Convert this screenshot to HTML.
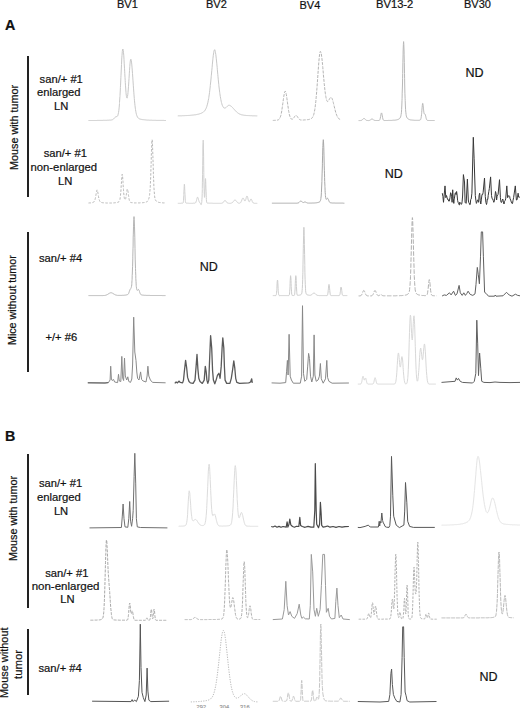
<!DOCTYPE html>
<html><head><meta charset="utf-8"><style>
html,body{margin:0;padding:0;background:#fff;}
body{width:520px;height:708px;position:relative;overflow:hidden;font-family:"Liberation Sans",sans-serif;color:#111;-webkit-text-stroke-width:0.2px;}
.t{position:absolute;white-space:nowrap;line-height:1;}
.rot{position:absolute;transform-origin:0 0;transform:rotate(-90deg);white-space:nowrap;line-height:1;}
.vl{position:absolute;left:26.95px;width:1.8px;background:#222;}
svg{position:absolute;left:0;top:0;}
</style></head><body>
<svg width="520" height="708" viewBox="0 0 520 708" fill="none" stroke-linejoin="round">
<path d="M88.5 120.5 89.0 120.5 89.5 120.5 90.0 120.5 90.5 120.5 91.0 120.5 91.5 120.5 92.0 120.5 92.5 120.5 93.0 120.5 93.5 120.5 94.0 120.5 94.5 120.5 95.0 120.5 95.5 120.5 96.0 120.5 96.5 120.5 97.0 120.4 97.5 120.4 98.0 120.4 98.5 120.4 99.0 120.4 99.5 120.4 100.0 120.4 100.5 120.4 101.0 120.4 101.5 120.4 102.0 120.4 102.5 120.4 103.0 120.4 103.5 120.3 104.0 120.3 104.5 120.3 105.0 120.3 105.5 120.3 106.0 120.3 106.5 120.3 107.0 120.2 107.5 120.2 108.0 120.2 108.5 120.2 109.0 120.2 109.5 120.1 110.0 120.1 110.5 120.1 111.0 120.0 111.3 120.0 111.5 119.9 111.7 119.9 112.0 119.8 112.0 119.8 112.4 119.7 112.5 119.7 112.8 119.5 113.0 119.4 113.2 119.3 113.5 119.0 113.5 119.0 113.9 118.6 114.0 118.5 114.3 118.2 114.5 117.9 114.7 117.7 115.0 117.4 115.0 117.3 115.4 117.0 115.5 117.0 115.8 116.8 116.0 116.7 116.2 116.7 116.5 116.6 116.5 116.6 116.9 116.5 117.0 116.5 117.1 116.5 117.3 116.3 117.5 116.1 117.6 115.9 117.7 115.8 118.0 114.9 118.0 114.8 118.4 113.1 118.5 112.7 118.5 112.6 118.8 110.7 119.0 109.0 119.2 107.2 119.5 103.6 119.5 103.3 119.5 102.6 119.9 96.8 120.0 96.4 120.0 95.6 120.3 90.0 120.4 87.5 120.5 85.9 120.9 77.4 121.0 75.2 121.4 67.0 121.5 64.5 121.8 57.9 122.0 55.5 122.3 51.4 122.5 50.0 122.8 49.0 123.0 49.3 123.3 50.7 123.5 52.8 123.8 55.8 124.0 59.5 124.2 63.2 124.5 68.2 124.7 71.8 124.8 73.7 125.0 77.3 125.2 80.4 125.3 82.6 125.5 85.8 125.7 88.0 125.8 90.0 126.0 92.4 126.1 93.8 126.3 95.3 126.5 96.7 126.6 97.2 126.8 97.9 127.0 98.1 127.1 98.1 127.3 97.6 127.5 96.7 127.5 96.4 127.8 94.5 128.0 92.6 128.0 92.3 128.3 89.0 128.5 86.3 128.8 81.8 129.0 78.6 129.3 73.8 129.5 70.7 129.8 66.4 130.0 63.9 130.3 61.1 130.5 59.9 130.8 59.2 131.0 59.5 131.3 60.8 131.5 62.1 131.8 64.9 132.0 67.1 132.3 70.9 132.5 73.6 132.8 77.9 133.0 80.8 133.3 85.2 133.5 88.1 133.8 92.2 134.0 94.9 134.3 98.5 134.5 100.8 134.8 103.8 135.0 105.7 135.3 108.1 135.5 109.5 135.8 111.4 136.0 112.5 136.3 113.8 136.5 114.6 136.8 115.5 137.0 116.1 137.5 117.1 138.0 117.8 138.5 118.3 139.0 118.6 139.5 118.9 140.0 119.1 140.5 119.2 141.0 119.3 141.5 119.4 142.0 119.5 142.5 119.6 143.0 119.7 143.5 119.7 144.0 119.8 144.5 119.8 145.0 119.9 145.5 119.9 146.0 120.0 146.5 120.0 147.0 120.0 147.5 120.1 148.0 120.1 148.5 120.1 149.0 120.2 149.5 120.2 150.0 120.2 150.5 120.2 151.0 120.2 151.5 120.2 152.0 120.3 152.5 120.3 153.0 120.3 153.5 120.3 154.0 120.3 154.5 120.3 155.0 120.3 155.5 120.3 156.0 120.4 156.5 120.4 157.0 120.4 157.5 120.4 158.0 120.4 158.5 120.4 159.0 120.4 159.5 120.4 160.0 120.4 160.5 120.4 161.0 120.4 161.5 120.4 162.0 120.4 162.5 120.4 163.0 120.4 163.5 120.4 164.0 120.5 164.5 120.5 165.0 120.5 165.5 120.5 166.0 120.5" stroke="#c8c8c8"/>
<path d="M177.8 115.9 178.3 115.8 178.8 115.8 179.3 115.8 179.8 115.8 180.3 115.8 180.8 115.8 181.3 115.8 181.8 115.8 182.3 115.7 182.8 115.7 183.3 115.7 183.8 115.7 184.3 115.7 184.8 115.6 185.3 115.6 185.8 115.6 186.3 115.6 186.8 115.5 187.3 115.5 187.8 115.5 188.3 115.5 188.8 115.4 189.3 115.4 189.8 115.4 190.3 115.3 190.8 115.3 191.3 115.2 191.8 115.2 192.3 115.1 192.8 115.1 193.3 115.0 193.8 115.0 194.3 114.9 194.8 114.8 195.3 114.8 195.8 114.7 196.3 114.6 196.8 114.5 197.3 114.4 197.8 114.3 198.3 114.2 198.8 114.1 199.3 113.9 199.8 113.8 200.3 113.6 200.8 113.4 201.3 113.2 201.8 113.0 202.3 112.7 202.8 112.4 203.3 112.1 203.8 111.6 204.3 111.2 204.4 111.0 204.8 110.6 205.2 109.9 205.3 109.8 205.8 108.9 206.1 108.3 206.3 107.8 206.8 106.5 206.9 106.0 207.3 104.8 207.8 102.8 208.3 100.3 208.7 98.4 208.8 97.5 209.3 94.1 209.5 92.6 209.8 90.2 210.3 85.8 210.3 85.3 210.8 81.0 211.2 76.8 211.3 75.8 211.8 70.3 212.1 67.6 212.3 64.9 212.8 59.8 212.9 58.8 213.3 55.3 213.8 52.2 213.8 51.9 214.3 50.0 214.6 49.7 214.8 49.8 215.3 51.4 215.4 52.2 215.8 54.5 216.3 58.8 216.8 63.8 217.2 67.5 217.3 69.2 217.8 74.6 218.0 76.7 218.3 79.8 218.8 84.7 218.8 85.2 219.3 89.1 219.7 92.3 219.8 93.1 219.9 93.8 220.3 96.5 220.6 98.0 220.7 98.8 220.8 99.4 221.3 101.8 221.4 102.2 221.5 102.6 221.8 103.7 222.2 105.1 222.3 105.3 222.8 106.4 223.1 106.9 223.3 107.2 223.8 107.8 223.9 107.8 223.9 107.9 224.3 108.0 224.7 108.1 224.8 108.1 225.3 107.9 225.5 107.8 225.8 107.7 226.3 107.3 226.8 106.8 227.1 106.5 227.3 106.3 227.8 105.9 227.9 105.8 228.3 105.5 228.7 105.3 228.8 105.3 229.3 105.3 229.5 105.3 229.8 105.4 230.3 105.7 230.8 106.0 231.1 106.2 231.3 106.4 231.8 106.8 231.9 106.9 232.3 107.3 232.7 107.7 232.8 107.8 233.3 108.4 233.5 108.6 233.8 109.0 234.3 109.5 234.8 110.1 235.1 110.4 235.3 110.6 235.8 111.2 235.9 111.3 236.3 111.6 236.7 112.0 236.8 112.1 237.3 112.5 237.5 112.7 237.8 112.9 238.3 113.3 238.8 113.6 239.1 113.8 239.3 113.9 239.8 114.1 240.3 114.3 240.8 114.5 241.3 114.7 241.8 114.8 242.3 114.9 242.8 115.0 243.3 115.1 243.8 115.2 244.3 115.3 244.8 115.3 245.3 115.4 245.8 115.4 246.3 115.5 246.8 115.5 247.3 115.5 247.8 115.6 248.3 115.6 248.8 115.6 249.3 115.6 249.8 115.7 250.3 115.7 250.8 115.7 251.3 115.7 251.8 115.7 252.3 115.8 252.8 115.8 253.3 115.8 253.8 115.8 254.3 115.8 254.8 115.8 255.3 115.8 255.8 115.9 256.3 115.9 256.8 115.9 257.3 115.9" stroke="#c8c8c8"/>
<path d="M272.8 120.4 273.3 120.4 273.8 120.4 274.3 120.4 274.8 120.3 275.3 120.3 275.8 120.3 276.3 120.3 276.8 120.2 277.3 120.1 277.8 120.0 278.3 119.8 278.8 119.5 278.9 119.4 279.3 119.0 279.4 118.8 279.8 118.2 280.0 117.8 280.3 117.1 280.6 116.2 280.8 115.5 281.2 113.9 281.3 113.3 281.8 110.8 281.8 110.5 282.3 107.2 282.3 107.1 282.8 103.6 282.9 102.8 283.3 99.8 283.5 98.5 283.8 96.3 284.1 94.8 284.3 93.4 284.6 92.1 284.8 91.7 285.2 91.2 285.3 91.2 285.8 92.1 285.8 92.2 286.3 94.5 286.4 94.7 286.8 97.6 286.9 98.5 287.3 101.3 287.5 102.8 287.8 105.0 288.1 107.0 288.3 108.6 288.6 110.8 288.8 111.6 289.2 113.8 289.3 114.2 289.8 116.1 290.3 117.5 290.4 117.7 290.6 118.1 290.8 118.4 290.9 118.6 291.1 118.7 291.3 119.0 291.5 119.1 291.5 119.1 291.8 119.2 291.9 119.3 292.1 119.3 292.3 119.2 292.4 119.2 292.8 119.0 292.9 118.9 293.3 118.5 293.8 117.9 293.8 117.8 294.2 117.2 294.3 117.1 294.6 116.5 294.8 116.3 295.1 115.9 295.3 115.7 295.6 115.5 295.8 115.4 296.0 115.4 296.3 115.5 296.4 115.5 296.8 115.9 296.9 116.0 297.3 116.5 297.4 116.6 297.8 117.3 298.2 118.0 298.3 118.1 298.7 118.6 298.8 118.7 299.1 119.1 299.3 119.3 299.6 119.5 299.8 119.6 300.1 119.7 300.3 119.8 300.5 119.9 300.8 120.0 300.9 120.0 301.3 120.0 301.4 120.0 301.8 120.0 302.3 120.0 302.8 120.0 303.3 120.0 303.8 120.0 304.3 119.9 304.8 119.9 305.3 119.9 305.8 119.8 306.3 119.8 306.8 119.7 307.3 119.7 307.8 119.6 308.3 119.6 308.8 119.5 309.3 119.4 309.8 119.2 310.3 119.1 310.8 118.9 311.3 118.6 311.8 118.2 312.0 118.0 312.3 117.7 312.7 117.1 312.8 116.9 313.3 115.8 313.4 115.6 313.8 114.3 314.1 113.1 314.3 112.2 314.8 109.5 315.3 105.9 315.5 104.2 315.8 101.5 316.2 97.3 316.3 96.2 316.8 90.0 316.9 88.7 317.3 83.3 317.6 79.0 317.8 76.1 318.3 69.0 318.8 62.4 319.0 60.1 319.3 56.9 319.7 53.7 319.8 53.1 320.3 51.5 320.4 51.4 320.8 51.9 321.1 53.0 321.3 54.0 321.8 57.5 321.9 58.4 322.3 62.1 322.5 64.2 322.7 66.1 322.8 67.5 323.2 72.0 323.3 73.1 323.4 74.9 323.8 78.8 323.9 79.9 324.2 83.4 324.3 84.2 324.6 87.2 324.8 89.1 325.0 90.8 325.3 93.2 325.8 96.4 325.8 96.5 326.0 97.6 326.3 99.0 326.6 99.9 326.7 100.3 326.8 100.6 327.3 101.4 327.3 101.4 327.4 101.4 327.8 101.5 328.1 101.3 328.3 101.0 328.8 100.3 328.9 100.1 329.3 99.3 329.6 98.7 329.8 98.4 330.3 97.7 330.4 97.6 330.8 97.4 331.2 97.4 331.3 97.5 331.8 98.1 332.0 98.4 332.3 99.2 332.8 100.5 332.8 100.7 333.3 102.5 333.5 103.4 333.8 104.6 334.3 106.7 334.8 108.8 335.1 109.9 335.3 110.8 335.8 112.6 335.9 112.7 336.3 114.1 336.6 115.0 336.8 115.5 337.3 116.6 337.4 116.8 337.8 117.4 338.2 118.0 338.3 118.1 338.8 118.7 338.9 118.8 339.3 119.0 339.7 119.3 339.8 119.3 340.3 119.5 340.5 119.6 340.8 119.7" stroke="#b4b4b4" stroke-dasharray="3 1.2"/>
<path d="M358.6 120.6 359.1 120.6 359.6 120.6 360.1 120.6 360.4 120.6 360.6 120.5 360.7 120.5 361.0 120.5 361.1 120.5 361.3 120.4 361.6 120.3 361.9 120.1 362.1 120.0 362.2 119.9 362.5 119.6 362.6 119.5 362.8 119.3 363.1 119.0 363.4 118.7 363.6 118.6 363.7 118.6 364.0 118.5 364.1 118.5 364.3 118.6 364.6 118.7 364.9 119.0 365.1 119.2 365.2 119.3 365.5 119.6 365.6 119.7 365.8 119.9 366.1 120.1 366.4 120.3 366.6 120.4 366.7 120.4 367.0 120.5 367.1 120.5 367.3 120.5 367.6 120.5 368.1 120.6 368.4 120.6 368.6 120.5 368.7 120.5 369.0 120.5 369.1 120.5 369.3 120.4 369.6 120.4 369.9 120.2 370.1 120.1 370.2 120.1 370.5 119.9 370.6 119.8 370.8 119.6 371.1 119.4 371.4 119.2 371.6 119.1 371.7 119.0 372.0 119.0 372.1 119.0 372.3 119.0 372.6 119.2 372.9 119.4 373.1 119.5 373.2 119.6 373.5 119.8 373.6 119.9 373.8 120.1 374.1 120.2 374.4 120.3 374.6 120.4 374.7 120.4 375.0 120.5 375.1 120.5 375.3 120.5 375.6 120.5 376.1 120.5 376.6 120.5 377.1 120.5 377.6 120.5 378.1 120.5 378.6 120.5 379.1 120.5 379.3 120.4 379.5 120.2 379.6 120.1 379.7 119.9 379.9 119.5 380.1 118.9 380.3 118.1 380.5 117.0 380.6 116.5 380.7 115.9 380.9 114.8 381.1 113.8 381.3 113.1 381.5 112.9 381.6 113.0 381.7 113.1 381.9 113.8 382.1 114.8 382.3 115.9 382.5 117.0 382.6 117.6 382.7 118.0 382.9 118.9 383.1 119.5 383.3 119.9 383.5 120.2 383.6 120.3 383.7 120.3 383.9 120.4 384.1 120.5 384.6 120.5 385.1 120.5 385.6 120.5 386.1 120.5 386.6 120.5 387.1 120.5 387.6 120.5 388.1 120.5 388.6 120.4 389.1 120.4 389.6 120.4 390.1 120.4 390.6 120.4 391.1 120.4 391.6 120.4 392.1 120.3 392.6 120.3 393.1 120.3 393.6 120.2 394.1 120.2 394.6 120.2 395.1 120.1 395.6 120.1 396.1 120.0 396.6 119.9 397.1 119.8 397.6 119.6 398.1 119.5 398.6 119.2 399.1 118.9 399.6 118.5 400.1 117.9 400.6 116.9 400.9 115.8 401.1 114.8 401.1 114.6 401.4 112.8 401.6 110.0 401.6 109.7 401.8 106.0 402.0 100.5 402.1 98.3 402.2 93.2 402.5 84.0 402.6 78.3 402.7 73.5 402.9 62.3 403.1 54.1 403.1 52.0 403.4 44.4 403.6 41.6 403.8 44.4 404.1 52.0 404.1 54.1 404.3 62.3 404.5 73.5 404.6 78.3 404.7 84.0 404.9 93.2 405.1 98.3 405.2 100.5 405.4 106.0 405.6 109.7 405.6 110.0 405.9 112.8 406.1 114.6 406.1 114.8 406.3 115.8 406.6 116.9 407.1 117.9 407.6 118.5 408.1 118.9 408.6 119.2 409.1 119.5 409.6 119.6 410.1 119.8 410.6 119.9 411.1 120.0 411.6 120.0 412.1 120.1 412.6 120.1 413.1 120.2 413.6 120.2 414.1 120.2 414.6 120.3 415.1 120.3 415.6 120.3 416.1 120.3 416.6 120.3 417.1 120.3 417.6 120.3 418.1 120.3 418.6 120.3 419.1 120.2 419.6 120.2 420.1 120.0 420.3 119.9 420.5 119.6 420.6 119.5 420.7 119.3 420.9 118.7 421.1 117.8 421.3 116.5 421.5 114.7 421.6 113.7 421.7 112.6 421.9 110.2 422.1 107.7 422.3 105.5 422.5 103.9 422.6 103.5 422.7 103.3 422.8 103.4 422.9 103.8 423.0 104.4 423.1 105.2 423.2 106.1 423.3 107.1 423.4 108.2 423.5 109.2 423.6 110.2 423.7 111.1 423.8 111.9 423.9 112.5 424.0 113.0 424.1 113.4 424.2 113.7 424.3 113.8 424.4 113.9 424.5 113.9 424.6 113.9 424.7 113.9 424.8 113.9 424.9 113.9 425.0 114.0 425.1 114.1 425.2 114.4 425.4 115.0 425.6 115.8 425.8 116.7 426.0 117.6 426.1 118.0 426.2 118.4 426.4 119.1 426.6 119.6 426.8 119.9 427.0 120.1 427.1 120.2 427.2 120.3 427.4 120.3 427.6 120.4 428.1 120.4 428.6 120.5 429.1 120.5 429.6 120.5 430.1 120.5 430.6 120.5 431.1 120.5 431.6 120.5 432.1 120.5 432.6 120.5 433.1 120.5 433.6 120.5 434.1 120.5 434.6 120.5" stroke="#b8b8b8"/>
<path d="M88.5 203.0 89.0 203.0 89.5 202.9 90.0 202.9 90.5 202.9 91.0 202.8 91.5 202.8 92.0 202.7 92.5 202.6 93.0 202.4 93.5 202.2 93.8 202.0 94.0 201.8 94.1 201.7 94.4 201.2 94.5 201.0 94.7 200.6 95.0 199.7 95.3 198.5 95.5 197.5 95.6 197.0 95.9 195.3 96.0 194.7 96.2 193.4 96.5 191.7 96.8 190.4 97.0 190.0 97.1 189.9 97.4 190.4 97.5 190.7 97.7 191.7 98.0 193.4 98.3 195.3 98.5 196.5 98.6 197.0 98.9 198.5 99.0 198.9 99.2 199.7 99.5 200.5 99.8 201.2 100.0 201.5 100.1 201.7 100.4 202.0 100.5 202.0 100.7 202.2 101.0 202.3 101.5 202.5 102.0 202.6 102.5 202.7 103.0 202.8 103.5 202.8 104.0 202.9 104.5 202.9 105.0 202.9 105.5 202.9 106.0 202.9 106.5 203.0 107.0 203.0 107.5 203.0 108.0 203.0 108.5 203.0 109.0 203.0 109.5 203.0 110.0 203.0 110.5 203.0 111.0 203.0 111.5 203.0 112.0 202.9 112.5 202.9 113.0 202.9 113.5 202.9 114.0 202.9 114.5 202.8 115.0 202.8 115.5 202.7 116.0 202.7 116.5 202.6 117.0 202.5 117.5 202.4 118.0 202.2 118.5 202.0 119.0 201.6 119.2 201.3 119.5 200.9 119.5 200.8 119.7 200.2 120.0 199.2 120.0 199.0 120.2 197.8 120.5 195.7 120.5 195.3 120.7 193.1 121.0 189.8 121.0 189.0 121.2 185.9 121.5 181.9 121.5 181.1 121.7 178.1 122.0 175.3 122.0 175.0 122.2 174.3 122.5 175.3 122.5 175.7 122.7 178.0 123.0 181.7 123.0 182.5 123.2 185.8 123.5 189.5 123.5 190.2 123.7 192.8 124.0 195.4 124.0 195.8 124.2 197.3 124.4 198.4 124.5 198.6 124.5 198.8 124.7 199.3 124.7 199.4 124.9 199.7 125.0 199.7 125.0 199.7 125.2 199.7 125.2 199.7 125.4 199.3 125.5 199.1 125.7 198.6 125.9 197.4 126.0 196.9 126.2 195.9 126.4 194.2 126.5 193.4 126.7 192.3 126.9 190.6 127.0 190.1 127.2 189.4 127.4 189.0 127.5 189.1 127.7 189.5 127.9 190.8 128.0 191.5 128.2 192.6 128.4 194.6 128.5 195.4 128.7 196.5 128.9 198.1 129.0 198.7 129.2 199.5 129.4 200.5 129.5 200.8 129.7 201.2 129.9 201.7 130.0 201.8 130.2 202.0 130.4 202.2 130.5 202.3 131.0 202.5 131.5 202.6 132.0 202.7 132.5 202.7 133.0 202.8 133.5 202.8 134.0 202.8 134.5 202.9 135.0 202.9 135.5 202.9 136.0 202.9 136.5 202.9 137.0 202.9 137.5 202.9 138.0 202.9 138.5 202.9 139.0 202.9 139.5 202.9 140.0 202.8 140.5 202.8 141.0 202.8 141.5 202.8 142.0 202.8 142.5 202.7 143.0 202.7 143.5 202.6 144.0 202.6 144.5 202.5 145.0 202.4 145.5 202.3 146.0 202.1 146.4 202.0 146.5 202.0 146.7 201.9 146.9 201.7 147.0 201.7 147.2 201.6 147.4 201.3 147.5 201.2 147.7 201.0 147.9 200.7 148.0 200.5 148.2 200.2 148.4 199.7 148.5 199.5 148.7 199.1 148.9 198.3 148.9 198.1 149.0 197.9 149.2 197.3 149.2 197.0 149.4 196.0 149.5 195.5 149.5 195.3 149.7 194.2 149.7 193.4 149.9 191.6 150.0 190.3 150.2 188.1 150.3 186.1 150.4 183.3 150.5 181.0 150.5 180.4 150.7 177.2 150.8 173.3 150.9 169.8 151.0 166.6 151.1 165.0 151.2 161.6 151.3 156.2 151.4 153.3 151.5 150.2 151.6 148.0 151.7 145.9 151.8 141.9 151.9 141.0 152.0 140.0 152.1 139.7 152.2 139.8 152.4 142.0 152.4 142.7 152.5 144.8 152.6 148.1 152.9 156.4 153.0 160.2 153.2 165.3 153.4 173.8 153.5 176.4 153.7 181.1 153.9 187.0 154.0 188.2 154.2 191.5 154.5 194.7 154.5 195.1 154.7 196.9 155.0 198.4 155.0 198.4 155.2 199.4 155.5 200.0 156.0 200.8 156.5 201.3 157.0 201.7 157.5 201.9 158.0 202.1 158.5 202.3 159.0 202.4 159.5 202.5 160.0 202.6 160.5 202.6 161.0 202.7 161.5 202.8 162.0 202.8 162.5 202.8 163.0 202.9 163.5 202.9 164.0 202.9 164.5 202.9 165.0 203.0 165.5 203.0" stroke="#b8b8b8" stroke-dasharray="2.5 1.5"/>
<path d="M177.8 203.3 178.3 203.3 178.8 203.3 179.3 203.3 179.8 203.3 180.3 203.3 180.8 203.3 181.3 203.2 181.8 203.2 182.3 203.2 182.8 203.1 183.1 202.8 183.2 202.6 183.3 202.2 183.3 202.1 183.4 201.5 183.5 200.5 183.6 199.0 183.7 197.0 183.8 195.4 183.8 194.5 183.9 191.8 184.1 189.0 184.2 186.5 184.3 184.8 184.3 184.7 184.4 184.2 184.5 184.8 184.6 186.5 184.7 189.0 184.8 190.5 184.8 191.8 185.0 194.5 185.1 197.0 185.2 199.0 185.3 200.5 185.4 201.5 185.5 202.2 185.6 202.6 185.8 202.8 185.8 202.9 186.3 203.1 186.8 203.2 187.3 203.2 187.8 203.2 188.3 203.2 188.8 203.3 189.3 203.3 189.8 203.3 190.3 203.3 190.8 203.3 191.3 203.3 191.8 203.3 192.3 203.3 192.8 203.3 193.3 203.2 193.8 203.2 194.3 203.2 194.8 203.2 194.9 203.2 195.1 203.1 195.3 203.0 195.3 203.0 195.6 202.7 195.8 202.4 196.0 201.9 196.2 201.3 196.3 201.1 196.5 200.5 196.7 199.6 196.8 199.2 196.9 198.7 197.2 197.9 197.3 197.5 197.4 197.4 197.6 197.2 197.8 197.3 197.8 197.4 198.1 197.9 198.3 198.6 198.3 198.7 198.5 199.5 198.7 200.4 198.8 200.6 198.9 201.1 199.2 201.7 199.3 202.0 199.4 202.2 199.6 202.5 199.7 202.6 199.8 202.7 199.8 202.7 199.8 202.7 199.9 202.8 200.1 202.9 200.2 203.1 200.3 203.2 200.3 203.2 200.4 203.5 200.6 203.7 200.7 204.0 200.8 204.3 200.8 204.3 200.9 204.5 201.1 204.6 201.2 204.6 201.3 204.4 201.3 204.4 201.4 204.0 201.6 203.3 201.7 202.5 201.8 201.5 201.8 201.3 201.9 199.5 202.1 197.1 202.2 193.5 202.3 189.7 202.3 188.6 202.4 182.2 202.6 174.3 202.7 165.4 202.8 158.0 202.8 156.2 202.9 148.1 203.1 142.3 203.2 140.2 203.3 141.6 203.3 142.3 203.4 148.1 203.6 156.2 203.7 165.3 203.8 172.5 203.8 174.2 203.9 182.0 204.1 188.3 204.2 191.2 204.2 192.9 204.3 194.5 204.3 195.3 204.3 195.8 204.4 196.5 204.4 197.2 204.5 197.4 204.6 197.3 204.6 197.2 204.7 196.1 204.7 195.9 204.8 194.4 204.8 193.8 204.9 190.9 205.1 187.6 205.2 184.2 205.3 181.2 205.3 180.7 205.4 179.3 205.5 178.6 205.6 179.4 205.7 181.5 205.8 183.5 205.8 184.7 205.9 188.2 206.1 191.8 206.2 195.1 206.3 197.7 206.3 197.9 206.4 199.6 206.5 201.0 206.6 201.9 206.7 202.4 206.8 202.6 206.8 202.7 207.3 203.0 207.8 203.1 208.3 203.1 208.8 203.2 209.3 203.2 209.8 203.2 210.3 203.2 210.8 203.2 211.3 203.2 211.8 203.2 212.3 203.2 212.8 203.3 213.3 203.3 213.8 203.3 214.3 203.3 214.8 203.3 215.3 203.3 215.8 203.3 216.3 203.3 216.8 203.3 217.3 203.3 217.8 203.3 218.3 203.3 218.8 203.3 219.3 203.3 219.8 203.3 220.3 203.3 220.8 203.3 221.3 203.3 221.4 203.3 221.7 203.2 221.8 203.2 222.0 203.2 222.3 203.1 222.6 202.9 222.8 202.8 222.9 202.7 223.2 202.4 223.3 202.3 223.5 202.0 223.8 201.6 224.1 201.2 224.3 200.9 224.4 200.8 224.7 200.6 224.8 200.5 225.0 200.5 225.3 200.6 225.6 200.8 225.8 201.1 225.9 201.2 226.2 201.6 226.3 201.7 226.5 202.0 226.8 202.4 227.1 202.7 227.3 202.8 227.4 202.9 227.7 203.1 227.8 203.1 228.0 203.2 228.3 203.2 228.6 203.3 228.8 203.3 229.3 203.3 229.8 203.3 230.3 203.3 230.5 203.3 230.8 203.2 230.9 203.2 231.2 203.1 231.3 203.1 231.6 203.0 231.8 203.0 232.0 202.8 232.3 202.6 232.4 202.6 232.8 202.2 232.8 202.2 233.1 201.8 233.3 201.6 233.5 201.3 233.8 200.9 233.9 200.8 234.2 200.4 234.3 200.3 234.6 200.1 234.8 200.0 235.0 200.0 235.3 200.1 235.4 200.1 235.8 200.4 235.8 200.4 236.1 200.8 236.3 201.0 236.5 201.3 236.8 201.7 236.9 201.8 237.2 202.2 237.3 202.3 237.6 202.6 237.8 202.7 238.0 202.8 238.3 203.0 238.4 203.0 238.8 203.1 238.8 203.2 239.1 203.2 239.3 203.2 239.4 203.2 239.5 203.2 239.7 203.2 239.8 203.1 240.0 203.1 240.3 202.9 240.6 202.6 240.8 202.3 240.9 202.2 241.2 201.6 241.3 201.4 241.5 200.9 241.8 200.1 242.1 199.3 242.3 198.8 242.4 198.6 242.7 198.2 242.8 198.1 243.0 198.0 243.3 198.2 243.6 198.6 243.8 199.0 243.9 199.2 244.0 199.5 244.2 199.9 244.2 200.1 244.3 200.2 244.5 200.6 244.8 200.9 244.8 200.9 245.0 201.0 245.1 201.0 245.2 200.8 245.3 200.7 245.4 200.6 245.5 200.3 245.7 199.8 245.8 199.6 245.8 199.4 246.0 198.7 246.2 197.7 246.3 197.5 246.5 196.8 246.6 196.5 246.8 196.2 246.8 196.1 247.0 196.0 247.2 196.2 247.3 196.3 247.5 196.9 247.8 197.8 247.8 198.0 248.0 198.8 248.2 199.9 248.3 200.1 248.5 200.7 248.8 201.4 248.8 201.5 249.0 201.7 249.2 201.8 249.3 201.8 249.5 201.6 249.8 201.2 249.8 201.1 250.0 200.6 250.2 200.0 250.3 199.9 250.5 199.5 250.8 199.1 250.8 199.1 251.0 199.0 251.2 199.1 251.3 199.2 251.5 199.5 251.8 200.1 251.8 200.2 252.0 200.7 252.2 201.3 252.3 201.5 252.5 201.9 252.8 202.4 252.8 202.4 253.0 202.7 253.2 203.0 253.3 203.0 253.5 203.1 253.8 203.2 253.8 203.2 254.0 203.3 254.3 203.3 254.8 203.3 255.3 203.3 255.8 203.3 256.3 203.3 256.8 203.3 257.3 203.3" stroke="#d0d0d0"/>
<path d="M271.9 203.2 272.4 203.2 272.9 203.2 273.4 203.2 273.9 203.2 274.4 203.2 274.9 203.2 275.4 203.2 275.9 203.2 276.4 203.2 276.9 203.2 277.4 203.2 277.9 203.2 278.4 203.2 278.9 203.2 279.4 203.2 279.9 203.2 280.4 203.2 280.9 203.2 281.4 203.2 281.9 203.2 282.4 203.2 282.9 203.2 283.4 203.2 283.9 203.2 284.4 203.2 284.9 203.2 285.4 203.2 285.9 203.2 286.4 203.2 286.9 203.2 287.4 203.2 287.9 203.2 288.4 203.2 288.9 203.2 289.4 203.2 289.9 203.2 290.4 203.2 290.9 203.2 291.4 203.2 291.9 203.2 292.4 203.2 292.9 203.2 293.4 203.2 293.9 203.2 294.4 203.2 294.9 203.2 295.4 203.2 295.9 203.2 296.4 203.2 296.9 203.2 297.2 203.1 297.4 203.1 297.5 203.1 297.8 203.1 297.9 203.1 298.1 203.0 298.4 202.9 298.7 202.7 298.9 202.6 299.0 202.5 299.3 202.2 299.4 202.1 299.6 201.9 299.9 201.5 300.2 201.3 300.4 201.1 300.5 201.1 300.8 201.0 300.9 201.0 301.1 201.1 301.4 201.2 301.7 201.5 301.9 201.7 302.0 201.8 302.3 202.1 302.4 202.2 302.6 202.3 302.9 202.4 303.2 202.5 303.4 202.5 303.5 202.5 303.8 202.4 303.9 202.3 304.1 202.2 304.4 202.1 304.7 202.0 304.9 202.0 305.0 202.0 305.3 202.0 305.4 202.1 305.6 202.1 305.9 202.3 306.2 202.4 306.4 202.6 306.5 202.6 306.8 202.8 306.9 202.8 307.1 202.9 307.4 203.0 307.7 203.0 307.9 203.1 308.0 203.1 308.3 203.1 308.4 203.1 308.6 203.1 308.9 203.1 309.4 203.1 309.9 203.1 310.4 203.1 310.9 203.1 311.4 203.1 311.9 203.0 312.4 203.0 312.9 203.0 313.4 203.0 313.9 203.0 314.4 203.0 314.9 202.9 315.4 202.9 315.9 202.8 316.4 202.8 316.9 202.7 317.4 202.6 317.9 202.5 318.4 202.4 318.9 202.2 319.4 202.0 319.9 201.6 320.4 200.7 320.4 200.6 320.7 199.7 320.9 198.4 320.9 198.2 321.2 196.0 321.4 192.7 321.6 188.0 321.9 181.7 321.9 180.9 322.1 173.9 322.4 165.1 322.4 163.2 322.6 155.9 322.8 147.7 322.9 145.5 323.1 141.9 323.3 139.7 323.4 140.1 323.5 141.9 323.8 147.7 323.9 151.9 324.0 155.9 324.2 165.1 324.4 170.7 324.5 173.9 324.6 177.7 324.7 181.6 324.9 185.1 324.9 186.4 325.0 187.8 325.1 190.7 325.2 192.5 325.4 194.6 325.4 195.2 325.4 195.6 325.6 197.1 325.7 197.6 325.9 198.5 325.9 198.7 325.9 198.7 326.1 199.1 326.1 199.2 326.4 199.3 326.4 199.2 326.6 199.1 326.9 198.8 326.9 198.7 327.1 198.5 327.4 198.3 327.4 198.3 327.6 198.3 327.9 198.5 327.9 198.6 328.1 198.9 328.4 199.5 328.4 199.6 328.6 200.2 328.9 200.8 328.9 200.9 329.1 201.4 329.4 201.8 329.4 201.9 329.6 202.2 329.9 202.4 329.9 202.5 330.1 202.6 330.4 202.7 330.4 202.7 330.6 202.8 330.9 202.8 331.4 202.9 331.9 202.9 332.4 203.0 332.9 203.0 333.4 203.0 333.9 203.0 334.4 203.0 334.9 203.1 335.4 203.1 335.9 203.1 336.4 203.1 336.9 203.1 337.4 203.1 337.9 203.1 338.4 203.1 338.9 203.1 339.4 203.1 339.9 203.1 340.4 203.1 340.9 203.1 341.4 203.1 341.9 203.1 342.4 203.1 342.9 203.1 343.4 203.2 343.9 203.2 344.4 203.2" stroke="#a8a8a8"/>
<path d="M442.3 193.2 442.9 196.4 443.5 202.3 445.0 185.9 445.8 197.7 446.5 195.5 447.1 197.7 447.6 199.5 448.2 199.4 448.7 201.1 449.3 201.1 450.0 197.5 450.6 192.7 451.1 193.7 451.6 196.7 452.1 202.3 452.7 189.8 453.2 198.3 453.8 203.4 454.2 199.0 454.6 197.0 455.1 193.5 455.5 192.7 456.1 194.6 456.6 191.5 457.1 195.0 457.6 200.4 458.1 202.3 458.5 203.3 458.9 204.5 459.4 204.9 459.8 202.1 460.3 203.5 461.0 204.4 461.7 204.0 462.1 201.8 462.6 196.0 463.4 174.6 464.5 182.0 465.1 202.3 465.6 203.0 466.2 203.4 467.4 179.1 468.3 200.0 468.8 202.7 469.2 203.0 469.7 204.6 470.2 204.5 470.7 199.6 471.2 199.0 471.9 193.2 473.3 137.3 474.1 158.2 475.3 195.5 475.9 200.7 476.4 203.4 476.9 202.2 477.4 200.0 478.0 200.2 478.6 202.3 479.1 195.4 479.7 193.2 480.2 200.4 480.8 204.0 481.4 199.1 482.0 194.4 482.6 194.6 483.1 192.7 484.5 178.0 485.3 196.6 485.9 202.4 486.5 204.5 486.9 202.8 487.3 199.0 487.8 199.4 488.2 195.5 488.8 191.6 489.3 188.7 490.6 176.9 491.5 195.5 492.1 198.7 492.7 198.9 493.2 200.3 493.8 202.3 494.4 200.9 494.9 197.0 495.5 191.5 496.1 193.7 496.6 200.0 497.1 196.3 497.6 194.9 498.1 194.4 499.5 179.7 500.4 197.7 501.0 202.3 501.7 202.3 502.2 200.3 502.8 199.0 503.4 202.1 504.0 204.0 504.6 201.3 505.1 200.6 505.7 198.9 506.8 185.9 507.6 197.7 508.3 196.0 509.0 195.5 509.6 196.3 510.1 198.9 510.7 200.0 511.3 202.1 511.9 203.4 512.5 203.5 513.0 200.5 513.6 197.7 515.3 185.9 516.4 200.0 517.0 199.9 517.5 197.2 518.1 193.2 518.7 197.2 519.4 197.1 520.0 197.7" stroke="#383838"/>
<path d="M88.5 295.6 89.0 295.6 89.5 295.6 90.0 295.6 90.5 295.6 91.0 295.6 91.5 295.6 92.0 295.6 92.5 295.6 93.0 295.6 93.5 295.6 94.0 295.6 94.5 295.6 95.0 295.6 95.5 295.6 96.0 295.6 96.5 295.6 97.0 295.6 97.5 295.6 98.0 295.6 98.5 295.6 99.0 295.6 99.5 295.6 100.0 295.6 100.5 295.6 101.0 295.6 101.5 295.6 102.0 295.6 102.5 295.6 103.0 295.5 103.5 295.5 104.0 295.5 104.1 295.5 104.5 295.5 104.8 295.4 105.0 295.4 105.4 295.3 105.5 295.3 106.0 295.2 106.5 295.0 106.6 294.9 107.0 294.8 107.2 294.6 107.5 294.5 107.9 294.2 108.0 294.2 108.5 293.8 109.0 293.5 109.1 293.4 109.5 293.2 109.8 293.0 110.0 292.9 110.4 292.8 110.5 292.8 111.0 292.7 111.5 292.8 111.6 292.8 112.0 292.9 112.2 293.0 112.5 293.2 112.9 293.4 113.0 293.5 113.5 293.8 114.0 294.1 114.1 294.2 114.5 294.4 114.8 294.6 115.0 294.7 115.4 294.9 115.5 294.9 116.0 295.1 116.5 295.2 116.6 295.2 117.0 295.3 117.2 295.3 117.5 295.4 117.9 295.4 118.0 295.4 118.5 295.4 119.0 295.4 119.5 295.4 120.0 295.4 120.5 295.4 121.0 295.4 121.5 295.4 122.0 295.3 122.5 295.3 123.0 295.3 123.5 295.3 124.0 295.2 124.5 295.2 125.0 295.1 125.5 295.1 126.0 295.0 126.5 294.9 127.0 294.8 127.3 294.7 127.5 294.6 127.5 294.6 127.8 294.5 128.0 294.3 128.1 294.2 128.3 293.9 128.5 293.6 128.6 293.5 128.8 293.0 129.0 292.4 129.1 292.3 129.3 291.5 129.5 290.9 129.6 290.8 129.8 290.0 130.0 289.6 130.1 289.4 130.3 289.0 130.5 288.8 130.6 288.7 130.8 288.5 131.0 288.2 131.1 288.1 131.2 287.6 131.3 287.4 131.5 286.4 131.6 286.0 131.8 284.2 131.8 283.6 132.0 280.6 132.1 279.7 132.2 275.3 132.3 274.0 132.5 268.0 132.6 266.3 132.8 258.9 132.8 256.9 133.0 248.3 133.1 246.1 133.2 237.1 133.3 234.9 133.5 226.8 133.8 219.4 134.0 216.6 134.2 219.4 134.5 226.9 134.8 237.2 135.0 248.4 135.2 259.1 135.5 268.4 135.6 271.6 135.8 275.8 135.8 278.3 136.0 281.4 136.1 283.1 136.2 285.3 136.3 286.5 136.5 287.9 136.6 288.6 136.8 289.4 136.8 289.8 137.0 290.1 137.1 290.3 137.3 290.4 137.5 290.3 137.6 290.2 137.8 290.0 138.0 289.8 138.1 289.7 138.3 289.5 138.5 289.5 138.6 289.6 138.8 289.9 139.0 290.2 139.1 290.4 139.3 291.1 139.5 291.5 139.6 291.8 139.8 292.6 140.0 293.0 140.1 293.2 140.3 293.8 140.5 294.0 140.6 294.2 140.8 294.5 141.0 294.6 141.1 294.7 141.3 294.8 141.5 294.9 141.6 294.9 142.0 295.0 142.5 295.1 143.0 295.1 143.5 295.2 144.0 295.2 144.5 295.3 145.0 295.3 145.5 295.3 146.0 295.3 146.5 295.4 147.0 295.4 147.5 295.4 148.0 295.4 148.5 295.4 149.0 295.4 149.5 295.4 150.0 295.5 150.5 295.5 151.0 295.5 151.5 295.5 152.0 295.5 152.5 295.5 153.0 295.5 153.5 295.5 154.0 295.5 154.5 295.5 155.0 295.5 155.5 295.5 156.0 295.5 156.5 295.5 157.0 295.5 157.5 295.5 158.0 295.5 158.5 295.5 159.0 295.5 159.5 295.5 160.0 295.5 160.5 295.5 161.0 295.5 161.5 295.5 162.0 295.6 162.5 295.6 163.0 295.6 163.5 295.6 164.0 295.6 164.5 295.6 165.0 295.6 165.5 295.6" stroke="#b4b4b4"/>
<path d="M272.8 295.6 273.3 295.6 273.8 295.6 274.3 295.6 274.8 295.6 275.3 295.6 275.8 295.5 276.0 295.4 276.1 295.2 276.2 294.9 276.3 294.7 276.4 294.3 276.5 293.5 276.6 292.2 276.8 290.5 276.8 289.7 276.9 288.5 277.0 286.1 277.1 283.8 277.2 281.8 277.3 281.2 277.4 280.5 277.5 280.0 277.6 280.5 277.8 281.8 277.8 282.6 277.9 283.8 278.0 286.1 278.1 288.4 278.2 290.5 278.3 291.3 278.4 292.2 278.5 293.5 278.6 294.3 278.8 294.9 278.8 295.1 278.9 295.2 279.0 295.4 279.3 295.6 279.8 295.6 280.3 295.6 280.8 295.6 281.3 295.6 281.8 295.6 282.3 295.6 282.8 295.6 283.3 295.6 283.8 295.6 284.3 295.6 284.8 295.6 285.3 295.6 285.8 295.6 286.3 295.6 286.8 295.6 287.3 295.6 287.8 295.6 288.3 295.6 288.8 295.5 289.1 295.3 289.2 295.1 289.3 294.9 289.4 294.7 289.5 294.0 289.6 292.9 289.7 291.3 289.8 290.0 289.9 289.1 290.0 286.5 290.1 283.5 290.2 280.6 290.3 279.0 290.4 278.0 290.5 276.3 290.6 275.7 290.7 276.3 290.8 277.2 290.9 278.0 291.0 280.6 291.1 283.5 291.2 286.5 291.3 288.1 291.4 289.1 291.5 291.2 291.6 292.9 291.7 294.0 291.8 294.4 291.9 294.7 292.0 295.1 292.1 295.3 292.3 295.5 292.8 295.5 293.3 295.5 293.8 295.5 294.3 295.3 294.4 295.0 294.6 294.6 294.7 293.9 294.8 292.8 294.9 291.2 295.1 289.1 295.2 286.4 295.3 283.5 295.4 280.6 295.6 278.0 295.7 276.3 295.8 275.7 295.9 276.3 296.1 278.0 296.2 280.5 296.3 283.5 296.4 286.4 296.6 289.0 296.7 291.2 296.8 292.7 296.9 293.8 297.1 294.5 297.2 294.9 297.3 295.2 297.8 295.3 298.3 295.3 298.8 295.3 299.3 295.2 299.8 295.1 300.3 294.9 300.8 294.7 301.3 294.3 301.8 293.2 302.0 292.2 302.1 290.7 302.3 288.7 302.3 288.3 302.5 284.7 302.7 279.5 302.8 274.8 302.9 272.7 303.0 264.2 303.2 254.5 303.3 248.8 303.4 244.6 303.6 235.8 303.7 229.6 303.8 228.1 303.9 227.3 304.1 229.6 304.2 235.8 304.3 238.1 304.4 244.6 304.6 254.5 304.8 264.2 304.8 265.5 304.9 272.7 305.1 279.5 305.3 284.7 305.5 288.3 305.6 290.7 305.8 292.1 305.8 292.2 306.0 293.2 306.3 294.0 306.8 294.6 307.3 294.8 307.8 295.0 308.3 295.1 308.8 295.2 309.3 295.3 309.5 295.3 309.8 295.3 309.9 295.3 310.2 295.3 310.3 295.3 310.6 295.2 310.8 295.2 311.0 295.1 311.3 294.9 311.4 294.9 311.8 294.6 311.8 294.6 312.1 294.3 312.3 294.1 312.5 294.0 312.8 293.7 312.9 293.6 313.2 293.3 313.3 293.2 313.6 293.1 313.8 293.0 314.0 293.0 314.3 293.1 314.4 293.1 314.8 293.3 314.8 293.3 315.1 293.6 315.3 293.8 315.5 294.0 315.8 294.3 315.9 294.4 316.2 294.7 316.3 294.8 316.6 295.0 316.8 295.1 317.0 295.2 317.3 295.3 317.4 295.3 317.8 295.4 317.8 295.5 318.1 295.5 318.3 295.5 318.5 295.5 318.8 295.5 319.3 295.6 319.8 295.6 320.3 295.6 320.8 295.6 321.3 295.6 321.8 295.6 322.3 295.6 322.8 295.6 323.3 295.6 323.8 295.6 324.3 295.6 324.8 295.6 325.3 295.6 325.8 295.6 326.3 295.6 326.8 295.6 327.2 295.5 327.3 295.4 327.4 295.3 327.5 295.1 327.6 294.7 327.8 294.1 327.9 293.2 328.1 292.0 328.2 290.5 328.3 289.9 328.4 288.8 328.6 287.1 328.7 285.7 328.8 285.0 328.9 284.7 329.0 284.4 329.1 284.7 329.3 285.7 329.4 287.1 329.6 288.8 329.8 290.5 329.8 291.0 329.9 292.0 330.1 293.2 330.2 294.1 330.3 294.5 330.4 294.7 330.5 295.1 330.6 295.3 330.8 295.5 331.3 295.6 331.8 295.6 332.3 295.6 332.8 295.6 333.3 295.6 333.8 295.6 334.3 295.6 334.8 295.6 335.3 295.6 335.8 295.6 336.3 295.6 336.8 295.6 337.3 295.6 337.8 295.6 338.3 295.6 338.8 295.6 339.3 295.5 339.4 295.4 339.6 295.2 339.8 294.9 339.8 294.8 339.9 294.4 340.1 293.7 340.2 292.8 340.3 292.1 340.4 291.7 340.5 290.4 340.6 289.1 340.8 288.0 340.9 287.3 341.1 287.0 341.2 287.3 341.3 287.5 341.4 288.0 341.6 289.1 341.7 290.4 341.8 291.2 341.9 291.7 342.0 292.8 342.1 293.7 342.3 294.4 342.4 294.9 342.6 295.2 342.8 295.4 342.8 295.4 342.9 295.5 343.3 295.6 343.8 295.6 344.3 295.6 344.8 295.6 345.3 295.6 345.8 295.6 346.3 295.6 346.8 295.6 347.3 295.6" stroke="#cccccc"/>
<path d="M358.6 295.9 359.1 295.9 359.6 295.9 360.1 295.8 360.2 295.8 360.5 295.8 360.6 295.7 360.8 295.6 361.1 295.5 361.4 295.2 361.6 294.9 361.7 294.7 362.0 294.1 362.1 293.9 362.3 293.4 362.6 292.6 362.9 291.8 363.1 291.3 363.2 291.1 363.5 290.7 363.6 290.6 363.8 290.5 364.1 290.7 364.4 291.1 364.6 291.6 364.7 291.8 365.0 292.6 365.1 292.9 365.3 293.4 365.6 294.1 365.9 294.7 366.1 295.0 366.2 295.2 366.5 295.5 366.6 295.5 366.8 295.6 367.1 295.8 367.4 295.8 367.6 295.8 368.1 295.9 368.6 295.9 369.1 295.9 369.6 295.9 370.1 295.9 370.6 295.9 371.1 295.8 371.4 295.8 371.6 295.8 371.7 295.8 372.0 295.6 372.1 295.6 372.3 295.4 372.6 295.1 372.9 294.7 373.1 294.3 373.2 294.1 373.5 293.4 373.6 293.2 373.8 292.6 374.1 291.8 374.4 291.1 374.6 290.8 374.7 290.7 375.0 290.5 375.1 290.5 375.3 290.7 375.6 291.1 375.9 291.8 376.1 292.3 376.2 292.6 376.5 293.4 376.6 293.7 376.8 294.1 377.1 294.7 377.4 295.1 377.6 295.3 377.7 295.4 377.8 295.5 378.0 295.6 378.1 295.6 378.1 295.6 378.3 295.7 378.6 295.7 378.6 295.7 378.8 295.6 379.1 295.6 379.1 295.5 379.3 295.4 379.6 295.2 379.6 295.2 379.8 295.0 380.1 294.8 380.1 294.8 380.3 294.7 380.6 294.5 380.6 294.5 380.8 294.5 381.1 294.5 381.1 294.6 381.3 294.7 381.6 294.8 381.6 294.9 381.8 295.0 382.1 295.2 382.1 295.3 382.3 295.4 382.6 295.6 382.6 295.6 382.8 295.7 383.1 295.7 383.1 295.8 383.3 295.8 383.6 295.8 383.6 295.8 383.8 295.8 384.1 295.8 384.6 295.8 385.1 295.8 385.6 295.8 386.1 295.8 386.6 295.8 387.1 295.8 387.6 295.8 388.1 295.8 388.6 295.8 389.1 295.8 389.6 295.8 390.1 295.8 390.6 295.8 391.1 295.8 391.6 295.8 392.1 295.8 392.6 295.8 393.1 295.8 393.6 295.8 394.1 295.8 394.6 295.8 395.1 295.8 395.6 295.8 396.1 295.8 396.6 295.7 397.1 295.7 397.6 295.7 398.1 295.7 398.6 295.7 399.1 295.7 399.6 295.7 400.1 295.6 400.6 295.6 401.1 295.6 401.6 295.6 402.1 295.5 402.6 295.5 403.1 295.5 403.6 295.4 404.1 295.3 404.6 295.3 405.1 295.2 405.6 295.1 406.1 294.9 406.6 294.8 407.1 294.6 407.6 294.3 408.1 293.9 408.6 293.3 409.1 292.2 409.4 291.0 409.6 289.6 409.6 289.2 409.9 286.5 410.1 284.1 410.2 282.4 410.5 276.7 410.6 273.5 410.8 269.1 411.0 259.8 411.1 256.9 411.3 249.0 411.6 237.8 411.6 236.8 411.9 227.6 412.1 220.8 412.1 220.3 412.4 217.6 412.6 219.0 412.7 220.3 412.9 227.6 413.1 233.0 413.2 237.8 413.5 249.0 413.6 253.0 413.8 259.8 414.1 269.1 414.1 270.7 414.3 276.7 414.6 282.4 414.9 286.5 415.1 288.8 415.1 289.2 415.4 291.0 415.6 291.8 415.7 292.1 416.1 293.1 416.6 293.8 417.1 294.2 417.6 294.5 418.1 294.7 418.6 294.9 419.1 295.0 419.6 295.1 420.1 295.2 420.6 295.3 421.1 295.4 421.6 295.4 422.1 295.5 422.6 295.5 423.1 295.5 423.6 295.5 424.1 295.6 424.6 295.6 425.1 295.6 425.6 295.6 426.1 295.5 426.6 295.3 426.8 295.1 427.1 294.8 427.1 294.7 427.3 294.2 427.5 293.3 427.6 292.8 427.7 292.1 427.9 290.4 428.1 289.1 428.2 288.3 428.4 286.0 428.6 283.9 428.6 283.6 428.9 281.5 429.1 280.1 429.1 280.0 429.3 279.6 429.5 280.1 429.6 280.5 429.8 281.6 430.0 283.6 430.1 284.9 430.2 286.0 430.4 288.4 430.6 290.0 430.6 290.4 430.9 292.1 431.1 293.4 431.3 294.3 431.6 294.9 431.6 295.0 431.8 295.2 432.0 295.4 432.1 295.5 432.6 295.6 433.1 295.7 433.6 295.7 434.1 295.7 434.6 295.8 435.1 295.8 435.6 295.8 436.1 295.8 436.6 295.8" stroke="#b0b0b0" stroke-dasharray="4.5 1.5"/>
<path d="M442.1 296.0 444.2 294.9 446.4 295.4 448.0 294.0 449.5 292.8 451.1 294.9 453.6 291.2 455.4 295.4 457.0 293.9 458.2 289.0 459.1 285.4 460.3 292.8 462.2 295.4 463.8 292.8 465.4 295.4 466.8 293.5 468.1 291.2 470.2 294.4 472.8 295.4 475.0 293.9 476.0 284.3 477.3 267.4 478.3 274.8 479.4 283.8 480.5 256.8 481.3 231.9 482.6 231.9 483.4 256.8 484.6 292.3 486.2 293.5 488.5 296.2 494.6 296.2 495.2 295.0 496.0 296.2 503.0 295.8 506.5 292.3 509.2 295.0 512.0 296.2 515.4 294.2 517.7 295.4 520.0 295.8" stroke="#606060"/>
<path d="M87.8 382.8 105.0 383.0 108.4 382.6 110.1 380.0 110.7 366.2 111.4 379.0 112.2 380.5 113.6 379.5 114.6 382.0 117.6 382.6 118.5 374.3 119.3 381.0 120.8 381.5 121.8 356.4 122.7 378.0 123.6 380.5 124.5 358.0 125.3 376.0 126.7 380.0 127.8 376.8 128.8 381.5 130.5 382.4 131.8 379.0 132.6 365.0 133.7 317.2 134.8 352.0 136.0 360.5 136.8 372.0 137.6 378.4 139.0 380.0 140.6 371.9 141.6 379.5 143.0 380.9 146.0 382.0 147.1 376.0 147.9 366.2 148.8 376.0 150.4 380.0 152.5 382.4 165.6 382.8" stroke="#8a8a8a"/>
<path d="M174.8 383.4 176.1 382.0 177.5 382.9 178.9 381.1 180.3 382.4 182.6 382.9 183.5 380.1 184.4 371.0 185.6 360.4 186.7 368.2 187.6 377.4 189.0 381.5 190.4 382.9 193.1 383.4 195.0 380.1 196.1 366.4 197.0 354.4 197.9 369.1 198.8 378.3 200.0 381.5 202.3 383.4 204.2 380.1 205.3 366.4 206.2 371.9 206.9 380.1 207.8 383.4 208.8 380.1 209.7 357.2 210.6 335.6 211.7 348.0 212.6 371.0 213.4 380.1 214.8 383.8 216.1 380.1 217.5 375.1 218.9 373.3 220.1 378.3 221.2 366.4 222.1 348.0 222.8 337.9 223.8 348.0 224.4 366.4 225.1 380.1 226.7 383.4 229.9 383.4 231.3 378.3 232.7 369.1 233.8 360.8 234.8 368.2 235.7 378.3 236.8 382.4 239.6 383.4 248.8 382.9 250.6 382.0 251.7 378.8 252.3 382.9" stroke="#5a5a5a" stroke-width="1.3"/>
<path d="M271.6 382.9 280.0 383.2 285.7 382.6 286.6 371.2 287.4 360.4 288.1 375.0 289.1 334.3 290.2 376.2 291.4 380.0 293.3 383.2 300.3 383.2 301.6 376.2 302.5 305.7 303.5 373.7 304.8 381.3 306.7 379.4 307.7 366.1 308.6 353.4 309.5 358.5 310.5 376.2 311.8 382.0 313.3 376.2 314.1 334.9 314.9 375.0 316.2 381.3 318.1 380.0 319.4 376.2 320.4 363.5 321.3 378.8 323.2 383.2 325.5 378.8 326.8 360.4 327.6 377.5 328.9 381.3 332.1 383.2 348.9 383.0" stroke="#888888"/>
<path d="M357.8 384.1 358.3 384.1 358.8 384.1 359.3 384.1 359.8 384.1 360.3 384.1 360.6 384.0 360.8 383.9 361.0 383.8 361.2 383.5 361.3 383.3 361.4 383.1 361.6 382.4 361.8 381.6 362.0 380.5 362.2 379.4 362.3 378.8 362.4 378.2 362.6 377.2 362.8 376.6 363.0 376.3 363.1 376.3 363.2 376.5 363.3 376.7 363.4 377.1 363.5 377.5 363.6 377.9 363.7 378.3 363.8 378.8 363.9 379.2 364.0 379.5 364.1 379.8 364.2 380.0 364.3 380.1 364.4 380.1 364.5 380.0 364.6 379.8 364.7 379.6 364.8 379.4 364.9 379.1 365.0 378.8 365.1 378.5 365.2 378.3 365.3 378.1 365.4 378.0 365.5 378.0 365.7 378.2 365.8 378.5 365.9 378.8 366.1 379.5 366.3 380.4 366.5 381.3 366.7 382.1 366.8 382.5 366.9 382.8 367.1 383.3 367.3 383.6 367.5 383.8 367.7 384.0 367.8 384.0 367.9 384.0 368.3 384.1 368.8 384.1 369.3 384.1 369.8 384.1 370.3 384.1 370.8 384.1 371.3 384.1 371.8 384.1 372.3 384.1 372.7 384.0 372.8 384.0 372.9 384.0 373.1 383.8 373.3 383.6 373.5 383.2 373.7 382.7 373.8 382.4 373.9 382.0 374.1 381.2 374.3 380.2 374.5 379.3 374.7 378.5 374.8 378.1 374.9 377.9 375.1 377.7 375.3 377.9 375.5 378.5 375.7 379.3 375.8 379.7 375.9 380.2 376.1 381.2 376.3 382.0 376.5 382.7 376.7 383.2 376.8 383.4 376.9 383.6 377.1 383.8 377.3 384.0 377.5 384.0 377.8 384.1 378.3 384.1 378.8 384.1 379.3 384.1 379.8 384.1 380.3 384.1 380.8 384.1 381.3 384.1 381.8 384.1 382.3 384.1 382.8 384.1 383.3 384.1 383.8 384.1 384.3 384.1 384.8 384.1 385.3 384.1 385.8 384.1 386.3 384.1 386.8 384.1 387.3 384.1 387.8 384.1 388.3 384.1 388.8 384.1 389.3 384.1 389.8 384.1 390.3 384.1 390.8 384.1 391.3 384.1 391.8 384.1 392.3 384.1 392.8 384.1 393.3 384.1 393.8 384.1 394.3 384.0 394.8 383.9 394.9 383.8 395.2 383.4 395.3 383.3 395.5 382.7 395.8 381.7 395.8 381.6 396.1 379.9 396.3 378.3 396.4 377.4 396.7 374.1 396.8 372.4 397.0 370.0 397.2 365.4 397.3 364.5 397.5 360.8 397.8 357.1 397.8 356.8 398.1 354.1 398.3 353.2 398.4 353.0 398.6 353.2 398.7 353.7 398.8 354.4 398.8 354.7 399.0 356.0 399.1 357.6 399.3 359.2 399.3 359.6 399.4 361.0 399.6 362.5 399.7 364.1 399.8 365.0 399.8 365.3 400.0 366.3 400.1 366.9 400.3 367.1 400.3 367.1 400.4 366.9 400.6 366.3 400.7 365.5 400.8 364.8 400.9 364.4 401.0 363.1 401.1 361.7 401.3 360.4 401.3 360.2 401.4 359.1 401.6 358.0 401.7 357.2 401.8 356.8 401.9 356.7 402.0 356.6 402.3 357.6 402.3 357.6 402.6 360.0 402.8 362.7 402.9 363.5 403.1 367.6 403.3 369.7 403.4 371.6 403.7 375.2 403.8 376.1 404.0 378.2 404.3 380.4 404.6 381.9 404.8 382.7 404.9 382.9 405.2 383.5 405.3 383.6 405.4 383.8 405.8 383.9 406.3 383.9 406.8 383.3 407.1 382.5 407.3 381.7 407.4 381.1 407.7 378.7 407.8 377.6 408.0 374.9 408.3 369.4 408.6 362.0 408.8 356.1 408.9 352.9 409.2 342.7 409.3 339.3 409.5 332.6 409.8 323.8 410.1 317.7 410.3 315.6 410.4 315.2 410.7 316.5 410.8 317.7 411.0 321.0 411.3 327.3 411.6 333.6 411.8 337.0 411.9 338.3 412.2 340.0 412.3 339.9 412.5 338.4 412.8 333.9 413.1 327.7 413.3 323.4 413.4 321.5 413.7 317.1 413.8 316.3 414.0 315.8 414.3 318.3 414.6 324.3 414.8 329.9 414.9 333.1 415.2 343.1 415.3 346.5 415.5 353.2 415.8 362.1 416.1 369.4 416.3 373.2 416.4 374.8 416.7 378.3 416.8 379.2 417.0 380.4 417.0 380.5 417.3 381.1 417.4 381.2 417.6 380.9 417.7 380.7 417.8 380.2 418.0 379.0 418.3 376.6 418.3 376.3 418.6 372.5 418.8 370.5 419.0 367.8 419.3 362.6 419.6 357.3 419.8 354.7 419.9 352.7 420.3 349.5 420.3 349.4 420.6 348.2 420.8 348.4 420.9 348.8 421.2 351.1 421.3 351.5 421.6 354.2 421.8 356.3 421.9 357.2 422.2 359.3 422.3 359.5 422.6 359.7 422.8 358.7 422.9 358.3 423.2 355.2 423.3 354.1 423.5 351.3 423.8 348.0 423.9 347.5 424.2 344.8 424.3 344.2 424.5 344.0 424.8 345.2 424.8 345.4 425.1 349.0 425.3 351.2 425.5 354.1 425.8 360.0 426.1 365.9 426.3 368.9 426.4 371.2 426.8 375.5 426.8 375.8 427.1 378.7 427.3 380.2 427.4 380.9 427.8 382.4 427.8 382.5 428.1 383.2 428.3 383.5 428.4 383.7 428.8 383.9 429.3 384.1 429.8 384.1 430.3 384.1 430.8 384.1 431.3 384.1 431.8 384.1 432.3 384.1 432.8 384.1 433.3 384.1 433.8 384.1 434.3 384.1 434.8 384.1 435.3 384.1 435.8 384.1" stroke="#d8d8d8"/>
<path d="M441.5 382.4 455.1 381.3 456.2 377.9 457.4 380.1 458.5 378.4 460.2 381.3 462.4 382.4 472.6 383.0 474.3 381.3 475.8 373.3 476.8 320.2 477.7 343.9 478.5 375.6 479.6 353.0 480.8 368.8 481.7 381.3 483.9 382.4 490.0 382.6 495.0 382.0 500.0 382.4 510.0 382.6 520.0 382.4" stroke="#606060"/>
<path d="M89.5 527.9 121.4 527.5 122.3 516.1 123.1 504.0 124.0 518.7 125.0 526.9 127.8 527.3 128.8 518.7 129.7 501.5 130.6 521.2 131.6 526.3 132.6 518.7 133.2 510.4 134.1 476.7 134.8 453.3 135.7 483.1 136.4 518.7 137.3 526.9 140.5 527.5 167.4 527.9" stroke="#707070"/>
<path d="M178.7 526.3 179.2 526.2 179.7 526.2 180.2 526.2 180.7 526.2 181.2 526.2 181.7 526.1 182.2 526.1 182.7 526.1 183.2 526.0 183.7 526.0 184.2 525.9 184.7 525.8 185.2 525.6 185.7 525.3 185.9 525.1 186.2 524.6 186.2 524.5 186.4 523.8 186.7 522.7 186.7 522.6 187.0 520.7 187.2 518.8 187.3 518.0 187.6 514.4 187.7 512.1 187.8 510.0 188.1 505.0 188.2 503.1 188.3 501.3 188.4 499.9 188.7 495.3 188.7 494.6 188.9 492.3 188.9 492.0 189.2 490.8 189.5 491.5 189.5 491.6 189.7 493.0 189.8 493.4 190.0 496.4 190.1 497.4 190.2 498.7 190.3 500.1 190.6 503.9 190.7 505.7 190.8 507.7 191.1 511.1 191.2 512.0 191.3 513.1 191.4 514.1 191.7 516.4 191.7 516.6 191.9 517.9 191.9 518.2 192.2 519.4 192.2 519.5 192.5 520.2 192.7 520.6 193.1 520.8 193.2 520.8 193.7 520.5 194.2 520.1 194.3 520.0 194.7 519.7 194.9 519.6 195.2 519.5 195.5 519.5 195.7 519.5 196.1 519.8 196.2 519.8 196.7 520.3 197.2 521.0 197.3 521.2 197.7 521.8 197.9 522.1 198.2 522.6 198.5 523.0 198.7 523.3 199.1 523.9 199.2 524.0 199.7 524.5 200.2 524.9 200.3 525.0 200.7 525.2 200.9 525.3 201.2 525.4 201.5 525.5 201.7 525.5 202.1 525.6 202.2 525.6 202.7 525.5 203.2 525.5 203.7 525.3 204.2 525.0 204.6 524.5 204.7 524.3 205.0 523.6 205.2 522.9 205.3 522.3 205.7 520.3 205.7 520.1 206.1 516.8 206.2 515.6 206.5 512.0 206.7 508.4 206.8 505.6 207.2 498.3 207.2 497.8 207.6 488.9 207.7 486.5 208.0 479.9 208.2 474.8 208.3 471.9 208.7 466.5 208.7 466.2 209.1 464.2 209.2 464.3 209.5 466.2 209.7 469.1 209.8 471.7 210.1 476.8 210.2 479.0 210.2 479.5 210.5 486.0 210.6 488.3 210.7 490.7 210.9 495.2 211.0 496.8 211.2 501.3 211.3 503.1 211.3 504.0 211.7 509.2 211.7 509.5 212.1 513.1 212.2 513.8 212.5 515.0 212.5 515.1 212.7 515.5 212.8 515.6 212.9 515.7 213.2 515.5 213.2 515.4 213.3 515.3 213.6 514.8 213.7 514.6 214.1 514.1 214.2 514.0 214.5 514.0 214.7 514.2 214.9 514.5 215.2 515.3 215.3 515.6 215.7 517.1 216.1 518.9 216.2 519.3 216.5 520.6 216.7 521.4 216.9 522.2 217.2 523.1 217.3 523.4 217.7 524.4 218.1 525.0 218.2 525.2 218.5 525.5 218.7 525.6 218.9 525.7 219.2 525.8 219.3 525.9 219.7 526.0 220.2 526.0 220.7 526.0 221.2 526.0 221.7 526.1 222.2 526.1 222.7 526.1 223.2 526.0 223.7 526.0 224.2 526.0 224.7 526.0 225.2 526.0 225.7 526.0 226.2 526.0 226.7 525.9 227.2 525.9 227.7 525.8 228.2 525.8 228.7 525.7 229.2 525.6 229.7 525.4 230.2 525.2 230.7 524.7 230.8 524.5 231.2 523.7 231.2 523.7 231.6 522.4 231.7 521.7 231.9 520.3 232.2 518.0 232.3 517.0 232.7 512.3 232.7 512.0 233.1 506.1 233.2 503.2 233.4 498.4 233.7 492.1 233.8 489.7 234.2 480.9 234.2 480.3 234.6 473.1 234.7 470.5 234.9 467.6 235.2 465.7 235.3 465.6 235.7 467.6 235.7 467.8 236.1 473.0 236.2 475.9 236.4 480.2 236.4 480.8 236.7 487.1 236.8 489.5 236.8 490.0 237.2 497.9 237.2 498.5 237.2 499.5 237.6 505.2 237.7 507.3 237.7 507.7 237.9 510.9 238.1 512.9 238.2 513.9 238.3 514.8 238.5 516.3 238.7 517.0 238.7 517.1 238.9 517.7 239.1 517.8 239.2 517.8 239.4 517.6 239.4 517.5 239.7 516.9 239.8 516.6 240.2 515.2 240.2 515.1 240.7 513.8 240.7 513.6 241.1 512.8 241.2 512.6 241.5 512.5 241.7 512.6 241.9 513.0 242.2 513.7 242.3 514.2 242.7 515.6 242.8 515.9 243.2 517.9 243.6 519.9 243.7 520.3 244.1 521.7 244.2 522.3 244.5 523.2 244.7 523.8 244.9 524.3 245.2 524.9 245.3 525.0 245.7 525.5 245.8 525.5 246.2 525.8 246.2 525.9 246.6 526.0 246.7 526.0 247.2 526.1 247.7 526.2 248.2 526.2 248.7 526.2 249.2 526.2 249.7 526.2 250.2 526.3 250.7 526.3 251.2 526.3 251.7 526.3 252.2 526.3 252.7 526.3 253.2 526.3 253.7 526.3 254.2 526.3 254.7 526.3 255.2 526.3 255.7 526.3 256.2 526.3 256.7 526.3 257.2 526.3 257.7 526.3 258.2 526.3" stroke="#dcdcdc"/>
<path d="M271.2 526.5 273.0 527.0 275.0 526.0 277.0 527.2 279.0 526.4 281.0 527.3 283.0 526.5 286.2 527.1 287.1 521.9 287.9 527.1 289.0 524.2 289.8 519.0 290.8 524.8 292.5 526.5 294.5 527.2 296.5 526.3 298.8 526.5 299.8 517.3 300.6 525.4 302.3 526.5 305.0 527.3 308.0 526.4 311.0 527.2 313.8 527.1 314.8 510.4 315.3 463.7 316.2 510.4 316.7 524.2 318.5 527.7 319.6 524.2 320.4 502.3 321.1 512.7 321.7 525.4 323.1 527.1 325.5 526.6 327.7 526.0 330.0 527.2 333.0 526.5 336.0 527.3 339.0 526.5 342.0 527.2 345.0 526.6 348.9 526.5" stroke="#4a4a4a" stroke-width="1.2"/>
<path d="M357.8 527.4 360.0 527.6 365.1 526.4 368.3 525.1 370.2 527.0 378.4 527.0 379.2 521.3 379.7 526.0 380.3 521.5 380.9 523.0 381.8 513.0 382.6 520.5 383.3 523.0 384.1 524.0 385.0 526.4 386.5 527.2 389.0 527.4 389.8 525.5 390.5 516.2 391.5 456.4 392.8 495.8 393.7 516.2 396.2 525.1 399.4 527.6 403.9 525.1 404.7 511.1 405.5 482.5 406.8 502.2 407.7 521.3 409.6 526.4 413.4 527.4 434.8 527.4" stroke="#585858"/>
<path d="M441.5 525.2 442.0 525.2 442.5 525.1 443.0 525.1 443.5 525.1 444.0 525.1 444.5 525.1 445.0 525.1 445.5 525.1 446.0 525.1 446.5 525.1 447.0 525.0 447.5 525.0 448.0 525.0 448.5 525.0 449.0 525.0 449.5 525.0 450.0 524.9 450.5 524.9 451.0 524.9 451.5 524.9 452.0 524.9 452.5 524.8 453.0 524.8 453.5 524.8 454.0 524.7 454.5 524.7 455.0 524.7 455.5 524.6 456.0 524.6 456.5 524.6 457.0 524.5 457.5 524.5 458.0 524.4 458.5 524.4 459.0 524.3 459.5 524.3 460.0 524.2 460.5 524.1 461.0 524.0 461.5 523.9 462.0 523.9 462.5 523.8 463.0 523.6 463.5 523.5 464.0 523.4 464.5 523.2 465.0 523.1 465.5 522.9 466.0 522.7 466.5 522.4 467.0 522.2 467.5 521.9 468.0 521.5 468.5 521.0 469.0 520.4 469.5 519.7 469.8 519.3 470.0 518.8 470.5 517.6 471.0 516.1 471.2 515.3 471.5 514.2 472.0 511.9 472.5 508.9 472.8 507.2 473.0 505.3 473.5 501.0 474.0 496.1 474.2 493.4 474.5 490.5 475.0 484.4 475.5 478.0 475.8 474.8 476.0 471.6 476.5 465.7 477.0 460.7 477.2 458.9 477.5 457.5 478.0 456.3 478.5 457.0 478.8 457.8 479.0 459.0 479.5 462.0 480.0 466.0 480.2 468.2 480.5 470.5 481.0 475.4 481.5 480.3 481.8 482.7 482.0 485.2 482.5 489.8 483.0 494.1 483.2 496.1 483.5 498.1 484.0 501.6 484.4 504.1 484.5 504.6 484.8 506.0 485.0 507.2 485.1 507.7 485.5 509.3 485.8 510.4 486.0 511.0 486.2 511.6 486.5 512.1 487.0 512.6 487.2 512.7 487.5 512.7 487.9 512.4 488.0 512.2 488.5 511.3 488.6 511.0 489.0 509.9 489.3 508.9 489.5 508.1 490.0 506.1 490.5 503.9 490.7 503.0 491.0 501.8 491.4 500.3 491.5 500.0 492.0 498.7 492.1 498.5 492.5 498.0 492.8 498.0 493.0 498.1 493.5 498.8 494.0 500.1 494.2 500.7 494.5 501.7 494.9 503.3 495.0 503.7 495.5 505.9 495.6 506.4 496.0 508.2 496.3 509.6 496.5 510.5 497.0 512.7 497.5 514.7 497.7 515.4 498.0 516.5 498.4 517.7 498.5 518.0 499.0 519.3 499.1 519.6 499.5 520.4 499.8 521.0 500.0 521.3 500.5 522.0 501.0 522.6 501.2 522.7 501.5 523.0 502.0 523.3 502.5 523.5 503.0 523.7 503.5 523.9 504.0 524.0 504.5 524.1 505.0 524.2 505.5 524.2 506.0 524.3 506.5 524.4 507.0 524.4 507.5 524.4 508.0 524.5 508.5 524.5 509.0 524.6 509.5 524.6 510.0 524.6 510.5 524.7 511.0 524.7 511.5 524.7 512.0 524.7 512.5 524.8 513.0 524.8 513.5 524.8 514.0 524.8 514.5 524.8 515.0 524.9 515.5 524.9 516.0 524.9 516.5 524.9 517.0 524.9 517.5 525.0 518.0 525.0 518.5 525.0 519.0 525.0 519.5 525.0 520.0 525.0" stroke="#e4e4e4"/>
<path d="M90.4 620.2 90.9 620.2 91.4 620.2 91.9 620.2 92.4 620.2 92.9 620.2 93.4 620.2 93.9 620.2 94.4 620.1 94.9 620.1 95.4 620.1 95.9 620.1 96.4 620.1 96.9 620.1 97.4 620.0 97.9 620.0 98.4 620.0 98.9 619.9 99.4 619.9 99.9 619.8 100.4 619.7 100.9 619.6 101.4 619.4 101.9 619.2 102.4 618.8 102.8 618.0 102.9 617.8 103.1 617.0 103.4 615.4 103.7 612.7 103.9 610.1 104.0 608.5 104.3 602.6 104.4 600.2 104.6 594.7 104.9 585.0 105.1 577.6 105.2 573.8 105.4 566.1 105.4 565.2 105.5 562.3 105.8 553.5 105.8 551.9 105.9 548.9 106.1 544.5 106.1 544.0 106.4 540.0 106.7 540.4 106.7 540.6 106.9 542.8 107.0 544.5 107.0 545.5 107.3 551.0 107.4 552.8 107.4 553.4 107.6 558.3 107.7 560.7 107.9 565.3 108.0 567.9 108.2 571.3 108.3 573.9 108.4 574.7 108.5 576.2 108.7 578.7 108.8 580.4 108.9 581.7 109.0 583.0 109.1 584.3 109.3 587.2 109.4 588.2 109.7 591.7 109.7 592.4 109.9 595.4 110.0 596.5 110.0 596.9 110.3 601.4 110.4 602.8 110.6 606.0 110.9 609.4 111.0 610.0 111.3 613.2 111.4 614.3 111.6 615.7 111.9 617.2 111.9 617.3 112.2 618.4 112.4 618.8 112.6 619.1 112.9 619.5 113.4 619.8 113.9 619.9 114.4 619.9 114.9 620.0 115.4 620.0 115.9 620.1 116.4 620.1 116.9 620.1 117.4 620.1 117.9 620.1 118.4 620.1 118.9 620.2 119.4 620.2 119.9 620.2 120.4 620.2 120.9 620.2 121.4 620.2 121.9 620.2 122.4 620.2 122.9 620.2 123.4 620.2 123.9 620.2 124.4 620.2 124.9 620.2 125.4 620.2 125.9 620.2 126.4 620.2 126.9 620.2 127.3 620.1 127.4 620.0 127.5 619.9 127.7 619.5 127.9 618.9 128.1 617.9 128.3 616.5 128.4 615.7 128.5 614.7 128.7 612.4 128.9 609.8 129.1 607.3 129.3 605.1 129.4 604.2 129.5 603.6 129.7 603.0 129.9 603.5 130.1 604.9 130.3 606.9 130.4 608.0 130.5 609.1 130.7 611.1 130.9 612.7 131.1 613.6 131.3 613.7 131.4 613.6 131.5 613.3 131.7 612.6 131.9 611.8 132.1 611.2 132.3 611.0 132.4 611.1 132.5 611.3 132.7 612.2 132.9 613.3 133.1 614.7 133.3 616.1 133.4 616.7 133.5 617.3 133.7 618.3 133.9 619.0 134.1 619.5 134.3 619.9 134.4 620.0 134.5 620.1 134.7 620.2 134.9 620.2 135.4 620.3 135.9 620.3 136.4 620.3 136.9 620.3 137.4 620.3 137.9 620.3 138.4 620.3 138.9 620.3 139.4 620.3 139.9 620.3 140.4 620.3 140.9 620.3 141.4 620.3 141.9 620.3 142.4 620.3 142.9 620.3 143.4 620.3 143.9 620.3 144.4 620.3 144.9 620.3 145.1 620.3 145.2 620.2 145.4 620.2 145.6 620.1 145.7 620.0 145.8 619.8 145.9 619.7 146.0 619.5 146.2 619.2 146.3 618.8 146.4 618.6 146.4 618.5 146.6 618.2 146.8 618.0 146.9 617.9 147.1 618.0 147.2 618.2 147.3 618.5 147.4 618.6 147.5 618.8 147.7 619.2 147.8 619.5 147.9 619.7 147.9 619.8 148.1 620.0 148.2 620.1 148.4 620.2 148.6 620.2 148.7 620.3 148.9 620.3 149.4 620.2 149.5 620.2 149.7 620.0 149.8 619.8 149.9 619.6 149.9 619.4 150.1 618.8 150.2 617.9 150.4 616.7 150.6 615.2 150.7 613.6 150.8 611.9 150.9 611.4 151.0 610.5 151.2 609.5 151.3 609.2 151.4 609.4 151.4 609.5 151.6 610.5 151.8 611.9 151.9 613.6 152.1 615.2 152.2 616.6 152.3 617.4 152.3 617.7 152.4 618.0 152.4 618.3 152.5 618.5 152.6 618.7 152.7 618.8 152.8 618.8 152.8 618.7 152.9 618.5 152.9 618.3 153.1 617.7 153.1 617.4 153.2 616.6 153.3 615.2 153.4 614.7 153.5 613.6 153.7 611.9 153.8 610.5 153.9 609.8 153.9 609.5 154.1 609.2 154.2 609.5 154.4 610.5 154.6 611.9 154.7 613.6 154.8 615.2 154.9 615.7 155.0 616.7 155.2 617.9 155.3 618.8 155.4 619.2 155.4 619.4 155.6 619.8 155.8 620.0 155.9 620.2 156.4 620.3 156.9 620.3 157.4 620.3 157.9 620.3 158.4 620.3 158.9 620.3 159.4 620.3 159.9 620.3 160.4 620.3 160.9 620.3 161.4 620.3 161.9 620.3 162.4 620.3 162.9 620.3 163.4 620.3 163.9 620.3 164.4 620.3 164.9 620.3 165.4 620.3 165.9 620.3 166.4 620.3 166.9 620.3 167.4 620.3" stroke="#a8a8a8" stroke-dasharray="3 1.2"/>
<path d="M184.7 619.6 185.2 619.6 185.7 619.6 186.2 619.6 186.7 619.6 187.2 619.6 187.7 619.6 188.2 619.6 188.7 619.6 189.2 619.6 189.7 619.6 190.2 619.6 190.6 619.6 190.7 619.6 191.0 619.5 191.2 619.5 191.3 619.5 191.7 619.4 191.7 619.4 192.1 619.3 192.2 619.2 192.5 619.1 192.7 619.0 192.8 618.9 193.2 618.6 193.2 618.6 193.6 618.3 193.7 618.2 194.0 617.9 194.2 617.8 194.3 617.7 194.7 617.5 194.7 617.5 195.1 617.4 195.2 617.4 195.5 617.5 195.7 617.6 195.8 617.7 196.2 617.9 196.2 617.9 196.6 618.3 196.7 618.3 197.0 618.6 197.2 618.8 197.3 618.9 197.7 619.1 197.7 619.1 198.1 619.3 198.2 619.3 198.5 619.4 198.7 619.5 198.8 619.5 199.2 619.5 199.2 619.5 199.6 619.5 199.7 619.6 200.2 619.6 200.7 619.6 201.2 619.6 201.7 619.6 202.2 619.6 202.7 619.6 203.2 619.6 203.7 619.6 204.2 619.6 204.7 619.6 205.2 619.6 205.7 619.6 206.2 619.6 206.7 619.6 207.2 619.6 207.7 619.5 208.2 619.5 208.7 619.5 209.2 619.5 209.7 619.5 210.2 619.5 210.7 619.5 211.2 619.5 211.7 619.5 212.2 619.5 212.7 619.5 213.2 619.5 213.7 619.5 214.2 619.5 214.7 619.5 215.2 619.5 215.7 619.5 216.2 619.4 216.7 619.4 217.2 619.4 217.7 619.4 218.2 619.4 218.7 619.3 219.2 619.3 219.7 619.3 220.2 619.2 220.7 619.2 221.2 619.1 221.7 619.0 222.2 618.8 222.7 618.3 222.9 617.9 223.2 617.1 223.2 617.1 223.6 615.5 223.7 614.5 223.9 613.1 224.2 609.3 224.5 603.8 224.7 600.1 224.8 596.5 225.2 587.5 225.2 586.7 225.5 577.3 225.7 570.9 225.8 567.1 226.2 558.1 226.2 556.9 226.5 551.8 226.7 549.8 226.8 549.6 227.1 551.1 227.2 551.8 227.4 555.3 227.7 560.1 227.8 561.7 228.1 569.4 228.2 572.0 228.4 577.1 228.4 577.7 228.7 584.6 228.8 585.8 228.8 586.3 229.1 593.0 229.2 594.5 229.2 595.4 229.4 598.9 229.5 600.8 229.7 603.1 229.7 603.4 229.9 605.1 230.1 606.3 230.2 607.1 230.3 607.4 230.4 607.7 230.7 607.8 230.7 607.7 231.0 606.7 231.2 605.8 231.4 604.6 231.7 602.6 231.8 602.1 232.2 599.8 232.2 599.5 232.5 598.1 232.7 597.7 232.9 597.6 233.2 598.1 233.3 598.3 233.7 600.2 233.7 600.6 234.0 603.0 234.2 604.5 234.4 606.2 234.7 608.8 234.8 609.4 235.2 612.2 235.2 612.6 235.5 614.6 235.7 615.4 235.9 616.3 236.2 617.3 236.3 617.5 236.7 618.3 236.7 618.3 237.0 618.7 237.2 618.8 237.4 618.9 237.7 619.0 238.2 619.1 238.7 619.1 239.2 619.1 239.7 619.0 240.2 618.8 240.7 618.4 240.9 618.1 241.2 617.4 241.2 617.3 241.4 616.1 241.7 614.3 241.7 614.1 242.0 610.9 242.2 607.8 242.3 606.4 242.6 600.4 242.7 596.5 242.8 592.9 243.1 584.5 243.2 581.4 243.4 576.0 243.7 568.6 243.7 567.5 243.9 563.5 244.2 561.6 244.5 563.5 244.7 567.5 244.8 568.6 245.0 576.1 245.2 581.4 245.3 584.5 245.6 592.9 245.7 596.5 245.8 600.4 246.1 606.4 246.2 607.8 246.4 611.0 246.7 614.1 246.7 614.3 246.9 616.1 247.0 616.3 247.2 617.1 247.2 617.2 247.2 617.2 247.5 617.6 247.7 617.6 247.8 617.5 248.0 617.0 248.2 616.3 248.2 616.0 248.5 614.7 248.7 613.3 248.8 612.9 249.0 611.0 249.2 609.4 249.2 609.0 249.5 607.3 249.7 606.4 249.8 606.2 250.0 605.8 250.2 606.1 250.2 606.2 250.5 607.4 250.7 608.8 250.8 609.2 251.0 611.2 251.2 612.8 251.2 613.2 251.5 615.0 251.7 616.2 251.8 616.5 252.0 617.6 252.2 618.2 252.2 618.3 252.5 618.8 252.7 619.1 252.8 619.1 253.0 619.3 253.2 619.4 253.7 619.4 254.2 619.5 254.7 619.5 255.2 619.5 255.7 619.5 256.2 619.5 256.7 619.5 257.2 619.5 257.7 619.5 258.2 619.5 258.7 619.5 259.2 619.5 259.7 619.5 260.2 619.5" stroke="#b0b0b0" stroke-dasharray="3 1.2"/>
<path d="M272.8 619.6 282.4 619.0 284.2 609.6 285.8 581.3 287.1 605.6 288.5 615.0 290.1 611.6 291.8 616.3 294.5 618.4 297.2 613.6 299.2 604.2 300.8 615.0 301.9 618.4 303.3 617.0 305.3 618.8 309.3 619.0 310.3 605.6 311.3 554.4 312.7 571.9 314.0 609.6 315.4 616.3 316.7 608.3 318.3 616.3 320.1 609.6 321.4 585.4 322.8 554.4 324.5 554.4 325.5 585.4 326.4 612.3 328.2 608.3 329.5 616.3 331.5 619.0 334.9 618.4 335.8 601.5 336.9 588.1 338.0 605.6 339.3 617.7 341.2 615.0 343.0 619.0 349.8 619.6" stroke="#9a9a9a"/>
<path d="M358.7 619.2 359.2 619.2 359.7 619.2 360.2 619.2 360.7 619.2 361.2 619.2 361.7 619.2 362.2 619.2 362.7 619.2 363.2 619.2 363.7 619.2 364.2 619.2 364.7 619.2 365.2 619.2 365.7 619.2 366.2 619.2 366.4 619.1 366.6 619.1 366.7 619.0 366.8 618.9 367.0 618.7 367.2 618.4 367.4 618.0 367.6 617.3 367.7 617.0 367.8 616.6 368.0 615.7 368.2 614.9 368.4 614.2 368.6 613.7 368.7 613.5 368.8 613.5 369.0 613.7 369.2 614.2 369.4 614.9 369.6 615.7 369.7 616.1 369.8 616.5 370.0 617.2 370.1 617.5 370.2 617.7 370.3 617.8 370.4 617.9 370.5 617.9 370.6 617.8 370.7 617.5 370.8 617.2 370.9 616.8 371.0 616.2 371.1 615.5 371.2 614.7 371.3 613.8 371.5 611.6 371.7 609.2 371.9 606.7 372.1 604.6 372.2 603.8 372.3 603.2 372.5 602.7 372.7 603.2 372.9 604.6 373.1 606.6 373.2 607.8 373.3 609.0 373.4 610.1 373.5 611.2 373.6 612.2 373.7 613.0 373.8 613.7 373.9 614.2 374.0 614.6 374.1 614.7 374.2 614.6 374.3 614.4 374.4 613.9 374.5 613.3 374.6 612.6 374.7 611.8 374.8 610.9 374.9 610.0 375.0 609.1 375.2 607.5 375.4 606.4 375.6 606.0 375.7 606.1 375.8 606.4 376.0 607.6 376.2 609.2 376.4 611.2 376.6 613.1 376.7 614.1 376.8 614.9 377.0 616.3 377.2 617.4 377.4 618.1 377.6 618.6 377.7 618.8 377.8 618.9 378.0 619.0 378.2 619.1 378.7 619.2 379.2 619.2 379.7 619.2 380.2 619.2 380.7 619.2 381.2 619.2 381.7 619.2 382.2 619.2 382.7 619.2 383.2 619.1 383.7 619.1 384.2 619.1 384.7 619.1 385.2 619.1 385.7 619.1 386.2 619.1 386.7 619.1 387.2 619.1 387.7 619.1 388.2 619.1 388.7 619.0 389.2 619.0 389.7 618.9 390.0 618.8 390.2 618.5 390.4 618.1 390.6 617.4 390.7 616.9 390.8 616.3 391.0 614.7 391.2 612.6 391.4 610.0 391.6 607.1 391.7 605.6 391.8 604.1 392.0 601.6 392.2 599.9 392.4 599.2 392.6 599.7 392.7 600.3 392.8 601.1 393.0 603.3 393.1 604.5 393.2 605.6 393.3 606.9 393.4 607.6 393.6 608.5 393.6 608.7 393.7 608.9 393.8 608.7 393.8 608.6 394.0 607.0 394.2 603.6 394.2 603.1 394.4 598.5 394.4 597.0 394.6 591.9 394.7 589.0 394.7 588.0 394.8 584.0 394.9 579.8 395.1 570.4 395.2 567.4 395.4 562.0 395.6 556.3 395.7 554.6 395.8 554.2 396.0 556.3 396.2 560.5 396.2 562.1 396.5 570.4 396.7 579.9 396.9 589.4 397.1 597.7 397.2 599.4 397.4 604.5 397.6 609.6 397.7 611.3 397.8 613.1 398.1 615.4 398.2 616.4 398.3 616.7 398.4 617.0 398.5 617.4 398.6 617.5 398.7 617.4 398.8 617.3 398.9 616.9 399.1 616.3 399.2 615.8 399.2 615.5 399.4 614.5 399.6 613.6 399.7 612.7 399.9 612.2 400.0 612.0 400.1 612.2 400.2 612.4 400.3 612.8 400.4 613.7 400.6 614.8 400.7 615.4 400.8 615.8 400.9 616.7 401.1 617.4 401.2 618.0 401.4 618.4 401.5 618.7 401.6 618.8 401.7 618.8 401.8 618.9 402.2 619.0 402.7 618.8 402.9 618.5 403.0 618.1 403.1 617.4 403.2 617.0 403.3 616.2 403.4 614.5 403.6 612.3 403.7 610.5 403.8 609.5 403.9 606.5 404.1 603.4 404.2 600.7 404.4 598.9 404.5 598.3 404.6 598.9 404.7 599.4 404.8 600.7 404.9 603.3 405.1 606.3 405.2 608.3 405.2 609.3 405.3 610.2 405.4 611.7 405.4 612.4 405.6 613.4 405.6 613.7 405.7 614.0 405.8 614.0 405.9 613.5 405.9 613.1 406.0 611.8 406.1 611.0 406.1 608.9 406.2 607.6 406.3 604.8 406.4 603.3 406.5 598.3 406.6 593.3 406.7 591.8 406.8 589.0 406.9 586.0 407.1 585.0 407.2 585.5 407.2 586.0 407.4 589.0 407.6 593.4 407.7 598.4 407.9 603.5 408.0 608.0 408.1 611.7 408.2 612.7 408.3 614.4 408.4 616.3 408.6 617.6 408.7 618.1 408.8 618.3 408.9 618.7 409.2 619.0 409.7 619.0 410.2 619.0 410.7 619.0 411.2 618.9 411.6 618.4 411.7 618.1 411.8 617.8 412.0 616.7 412.2 614.8 412.4 612.0 412.6 607.8 412.7 605.2 412.8 602.2 413.0 595.4 413.2 587.8 413.4 580.1 413.6 573.5 413.7 570.9 413.8 569.0 413.9 567.7 414.0 567.2 414.1 567.2 414.2 568.3 414.4 570.9 414.4 572.0 414.5 574.4 414.6 577.1 414.6 578.5 414.7 579.9 414.8 582.6 414.9 586.2 415.0 587.3 415.1 589.2 415.2 590.7 415.2 591.4 415.3 592.1 415.4 592.8 415.6 593.6 415.6 593.8 415.7 594.0 415.8 594.0 415.8 594.0 415.9 594.0 416.0 593.5 416.1 592.3 416.2 591.7 416.2 591.4 416.3 590.2 416.4 588.2 416.4 587.0 416.6 582.6 416.7 580.0 416.7 579.0 416.8 577.1 416.9 570.7 417.1 563.9 417.1 560.5 417.2 557.2 417.4 551.1 417.5 546.3 417.6 544.5 417.7 542.6 417.8 542.1 418.0 544.6 418.2 549.6 418.2 551.5 418.5 561.4 418.7 572.6 418.9 583.8 419.1 593.7 419.2 595.7 419.4 601.8 419.6 607.8 419.7 609.9 419.8 612.0 420.1 614.7 420.2 615.9 420.3 616.4 420.5 617.4 420.7 617.9 421.2 618.5 421.7 618.7 422.2 618.8 422.7 618.8 423.2 618.9 423.7 618.9 424.2 619.0 424.3 618.9 424.4 618.9 424.6 618.8 424.7 618.7 424.8 618.6 424.9 618.3 425.1 617.9 425.2 617.4 425.4 616.7 425.5 615.9 425.6 615.2 425.7 614.9 425.8 614.5 425.9 614.1 426.1 613.9 426.2 614.0 426.2 614.1 426.4 614.5 426.6 615.2 426.7 615.9 426.9 616.7 426.9 616.9 427.0 617.3 427.1 617.5 427.1 617.8 427.2 617.9 427.3 618.0 427.4 618.0 427.4 618.0 427.5 617.9 427.6 617.7 427.6 617.6 427.7 617.4 427.8 617.2 427.8 617.0 427.9 616.5 427.9 616.3 428.1 615.4 428.2 614.8 428.2 614.5 428.4 613.7 428.6 613.2 428.7 613.0 428.9 613.2 429.0 613.7 429.1 614.5 429.2 614.8 429.3 615.4 429.4 616.3 429.6 617.1 429.7 617.6 429.8 617.8 429.9 618.3 430.1 618.6 430.2 618.9 430.4 619.0 430.5 619.1 430.7 619.1 431.2 619.1 431.7 619.1 432.2 619.2 432.7 619.2 433.2 619.2 433.7 619.2 434.2 619.2 434.7 619.2 435.2 619.2 435.7 619.2 436.2 619.2 436.7 619.2" stroke="#b0b0b0" stroke-dasharray="2.5 1.3"/>
<path d="M441.5 617.9 442.0 617.9 442.5 617.9 443.0 617.9 443.5 617.9 444.0 617.9 444.5 617.9 445.0 617.9 445.5 617.9 446.0 617.9 446.5 617.9 447.0 617.9 447.5 617.9 448.0 617.9 448.5 617.9 449.0 617.9 449.5 617.9 450.0 617.9 450.5 617.9 451.0 617.9 451.5 617.9 452.0 617.9 452.5 617.9 453.0 617.9 453.5 617.9 454.0 617.9 454.5 617.9 455.0 617.9 455.5 617.9 456.0 617.9 456.5 617.9 457.0 617.9 457.5 617.9 458.0 617.9 458.5 617.9 459.0 617.9 459.5 617.9 460.0 617.9 460.5 617.9 461.0 617.9 461.5 617.9 462.0 617.9 462.5 617.9 463.0 617.8 463.2 617.8 463.5 617.7 463.8 617.6 464.0 617.4 464.2 617.1 464.5 616.7 464.8 616.2 465.0 615.6 465.2 615.1 465.5 614.6 465.8 614.3 466.0 614.2 466.2 614.3 466.5 614.6 466.8 615.1 467.0 615.6 467.2 616.2 467.5 616.7 467.8 617.1 468.0 617.4 468.2 617.6 468.5 617.7 468.8 617.8 469.0 617.8 469.5 617.9 470.0 617.9 470.5 617.9 471.0 617.9 471.5 617.9 472.0 617.9 472.5 617.9 473.0 617.9 473.5 617.9 474.0 617.9 474.5 617.9 475.0 617.9 475.5 617.9 476.0 617.9 476.5 617.9 477.0 617.9 477.5 617.9 478.0 617.9 478.5 617.9 479.0 617.9 479.5 617.8 480.0 617.8 480.5 617.8 481.0 617.8 481.5 617.8 482.0 617.8 482.5 617.8 483.0 617.8 483.5 617.8 484.0 617.8 484.5 617.8 485.0 617.8 485.5 617.8 486.0 617.8 486.5 617.8 487.0 617.8 487.5 617.8 488.0 617.7 488.5 617.7 489.0 617.7 489.5 617.7 490.0 617.7 490.5 617.7 491.0 617.6 491.5 617.6 492.0 617.5 492.5 617.5 493.0 617.4 493.5 617.3 494.0 617.2 494.5 617.1 495.0 616.8 495.5 616.3 495.7 615.9 496.0 615.0 496.0 614.9 496.2 613.6 496.5 611.5 496.5 611.3 496.8 607.7 497.0 604.2 497.1 602.7 497.4 595.9 497.5 591.5 497.6 587.6 497.9 578.2 498.0 574.6 498.2 568.6 498.4 560.1 498.5 558.8 498.7 554.2 499.0 552.0 499.3 554.1 499.5 558.7 499.6 560.1 499.8 568.5 500.0 574.6 500.1 578.1 500.4 587.5 500.5 591.4 500.6 595.7 500.9 602.4 501.0 604.0 501.2 607.4 501.4 610.0 501.5 610.8 501.5 611.0 501.7 612.5 501.8 612.8 502.0 613.7 502.0 613.8 502.3 613.9 502.5 613.6 502.6 613.3 502.9 611.8 503.0 611.2 503.2 609.7 503.5 607.0 503.8 603.9 504.0 601.8 504.1 600.7 504.4 598.0 504.5 597.2 504.7 596.1 505.0 595.4 505.3 596.1 505.5 597.4 505.6 598.1 505.9 601.0 506.0 602.1 506.2 604.3 506.5 607.5 506.8 610.3 507.0 612.0 507.1 612.7 507.4 614.4 507.5 614.9 507.7 615.6 508.0 616.4 508.3 616.9 508.5 617.1 508.6 617.2 509.0 617.4 509.5 617.5 510.0 617.6 510.5 617.6 511.0 617.7 511.5 617.7 512.0 617.7 512.5 617.7 513.0 617.7 513.5 617.8" stroke="#b8b8b8" stroke-dasharray="4 0.8"/>
<path d="M92.1 701.2 131.1 701.6 132.1 699.6 133.1 701.6 134.7 700.0 136.4 701.6 138.4 696.3 139.4 680.6 140.3 624.2 141.0 667.5 142.0 692.4 143.3 697.6 144.9 701.6 146.2 695.0 147.1 668.1 147.9 691.1 148.9 700.2 150.8 701.6 169.1 701.2" stroke="#555555"/>
<path d="M190.8 701.9 191.3 701.9 191.8 701.9 192.3 701.8 192.8 701.8 193.3 701.8 193.8 701.8 194.3 701.8 194.8 701.7 195.3 701.7 195.8 701.7 196.3 701.7 196.8 701.6 197.3 701.6 197.8 701.6 198.3 701.6 198.8 701.5 199.3 701.5 199.8 701.4 200.3 701.4 200.8 701.4 201.3 701.3 201.8 701.3 202.3 701.2 202.8 701.2 203.3 701.1 203.8 701.0 204.3 701.0 204.8 700.9 205.3 700.8 205.8 700.7 206.3 700.6 206.8 700.5 207.3 700.4 207.8 700.3 208.3 700.1 208.8 699.9 209.3 699.7 209.8 699.4 210.3 699.1 210.5 699.0 210.8 698.7 211.3 698.2 211.6 697.9 211.8 697.6 212.3 696.9 212.7 696.3 212.8 696.0 213.3 694.9 213.7 693.7 213.8 693.5 214.3 691.9 214.8 690.0 215.3 687.8 215.8 685.2 215.9 684.8 216.3 682.2 216.8 678.9 216.9 677.8 217.3 675.2 217.8 671.1 218.0 669.2 218.3 666.7 218.8 662.1 219.1 659.3 219.3 657.4 219.8 652.6 220.2 649.0 220.3 647.8 220.8 643.3 221.2 639.6 221.3 639.2 221.8 635.7 222.3 633.0 222.3 632.9 222.8 631.2 223.3 630.4 223.4 630.4 223.8 630.8 224.3 632.2 224.5 632.9 224.8 634.5 225.3 637.8 225.6 639.6 225.8 641.6 226.3 646.0 226.6 649.0 226.8 650.6 227.3 655.4 227.7 659.3 227.8 660.2 228.3 664.9 228.8 669.2 228.8 669.4 229.3 673.6 229.8 677.4 229.8 677.8 230.3 680.9 230.8 684.0 230.9 684.7 231.3 686.8 231.8 689.1 232.0 690.0 232.3 691.1 232.4 691.5 232.8 692.8 233.1 693.6 233.3 694.2 233.4 694.4 233.8 695.3 234.2 696.0 234.3 696.2 234.4 696.4 234.8 696.9 235.2 697.4 235.3 697.4 235.4 697.5 235.8 697.8 236.3 698.0 236.4 698.0 236.8 698.1 237.3 698.0 237.4 698.0 237.8 697.9 238.3 697.7 238.4 697.6 238.8 697.4 239.3 697.0 239.4 696.9 239.8 696.6 240.3 696.2 240.4 696.1 240.8 695.7 241.3 695.2 241.4 695.1 241.8 694.8 242.3 694.4 242.4 694.3 242.8 694.1 243.3 693.9 243.4 693.8 243.8 693.7 244.3 693.7 244.4 693.7 244.8 693.8 245.3 694.0 245.4 694.0 245.8 694.3 246.3 694.7 246.4 694.8 246.8 695.2 247.3 695.7 247.4 695.8 247.8 696.3 248.3 696.9 248.4 697.0 248.8 697.5 249.3 698.1 249.4 698.2 249.8 698.6 250.3 699.1 250.4 699.2 250.8 699.6 251.3 700.0 251.4 700.1 251.8 700.4 252.3 700.7 252.4 700.7 252.8 700.9 253.3 701.2 253.4 701.2 253.8 701.3 254.3 701.5 254.4 701.5 254.8 701.6 255.3 701.7 255.4 701.7 255.8 701.8 256.3 701.8 256.4 701.8 256.8 701.9 257.3 701.9 257.8 701.9 258.3 701.9" stroke="#b4b4b4" stroke-dasharray="1.2 1.3"/>
<path d="M272.8 701.3 273.3 701.3 273.8 701.3 274.3 701.3 274.8 701.3 275.3 701.3 275.8 701.3 276.3 701.3 276.8 701.3 277.3 701.3 277.8 701.3 278.2 701.2 278.3 701.2 278.4 701.2 278.6 701.1 278.8 700.9 279.0 700.6 279.2 700.2 279.3 700.0 279.4 699.7 279.6 699.0 279.8 698.3 280.0 697.5 280.2 696.9 280.3 696.6 280.4 696.5 280.6 696.3 280.8 696.5 281.0 696.9 281.2 697.5 281.3 697.9 281.4 698.3 281.6 699.0 281.8 699.7 282.0 700.2 282.2 700.6 282.3 700.8 282.4 700.9 282.6 701.1 282.8 701.2 283.0 701.2 283.3 701.3 283.8 701.3 284.3 701.3 284.8 701.3 285.3 701.3 285.8 701.2 286.0 701.2 286.2 701.1 286.3 701.0 286.4 700.9 286.6 700.6 286.8 700.2 287.0 699.5 287.2 698.6 287.3 698.0 287.4 697.4 287.6 696.2 287.8 695.0 288.0 693.9 288.2 693.2 288.3 693.0 288.4 692.9 288.6 693.2 288.8 693.9 289.0 695.0 289.2 696.2 289.3 696.8 289.4 697.4 289.6 698.6 289.8 699.5 290.0 700.2 290.2 700.6 290.3 700.8 290.4 700.9 290.6 701.1 290.8 701.2 291.1 701.2 291.3 701.2 291.5 701.1 291.7 700.9 291.8 700.8 291.9 700.6 292.1 700.2 292.3 699.7 292.5 699.0 292.7 698.3 292.8 697.9 292.9 697.5 293.1 696.9 293.3 696.5 293.5 696.3 293.7 696.5 293.8 696.6 293.9 696.9 294.1 697.5 294.3 698.3 294.5 699.0 294.7 699.7 294.8 700.0 294.9 700.2 295.1 700.6 295.3 700.9 295.5 701.1 295.7 701.2 295.8 701.2 295.9 701.2 296.3 701.3 296.8 701.3 297.3 701.3 297.8 701.3 298.3 701.3 298.8 701.3 299.3 701.3 299.8 701.3 300.2 701.0 300.3 700.9 300.3 700.8 300.4 700.4 300.6 699.6 300.7 698.4 300.8 697.1 300.8 696.8 300.9 694.5 301.1 691.7 301.2 688.6 301.3 686.1 301.3 685.5 301.4 682.9 301.6 681.0 301.7 680.4 301.8 680.8 301.8 681.0 301.9 682.9 302.1 685.5 302.2 688.6 302.3 691.1 302.3 691.7 302.4 694.5 302.6 696.7 302.7 698.4 302.8 699.4 302.8 699.6 302.9 700.3 303.1 700.8 303.2 701.0 303.3 701.1 303.8 701.3 304.3 701.3 304.8 701.2 305.3 701.2 305.8 701.2 306.3 701.2 306.8 701.2 307.3 701.2 307.8 701.2 308.3 701.2 308.8 701.2 309.3 701.2 309.8 701.2 310.3 701.2 310.8 701.1 310.9 700.9 311.1 700.7 311.2 700.3 311.3 700.1 311.4 699.7 311.6 698.8 311.7 697.6 311.8 696.7 311.9 696.2 312.0 694.6 312.1 693.0 312.3 691.6 312.4 690.6 312.6 690.3 312.8 690.6 312.8 690.9 312.9 691.6 313.1 692.9 313.2 694.5 313.3 695.6 313.4 696.1 313.5 697.6 313.6 698.7 313.8 699.6 313.9 700.2 314.1 700.5 314.2 700.8 314.3 700.8 314.4 700.9 314.8 700.9 315.1 700.9 315.2 700.8 315.3 700.8 315.4 700.7 315.6 700.6 315.7 700.4 315.8 700.2 315.9 700.1 316.0 699.7 316.1 699.2 316.3 698.7 316.4 698.2 316.6 697.7 316.8 697.4 316.8 697.3 316.9 697.2 317.1 697.2 317.2 697.5 317.3 697.7 317.4 697.8 317.5 698.2 317.6 698.6 317.8 698.9 317.9 699.1 318.1 699.2 318.2 699.2 318.3 699.1 318.4 699.0 318.6 698.7 318.7 698.1 318.8 697.6 318.9 697.0 319.1 695.3 319.2 692.7 319.3 691.1 319.4 688.7 319.6 683.9 319.6 683.0 319.8 675.5 319.8 673.0 319.9 666.1 320.1 658.6 320.1 655.5 320.3 644.4 320.3 642.8 320.4 634.3 320.6 629.7 320.6 627.0 320.8 624.0 321.0 626.1 321.1 628.4 321.1 632.6 321.3 640.4 321.3 641.8 321.5 652.1 321.6 655.1 321.7 662.2 321.8 668.6 321.9 671.0 322.0 678.1 322.1 679.0 322.2 683.6 322.3 686.0 322.4 687.5 322.6 690.3 322.7 692.3 322.8 693.0 322.9 693.8 323.1 694.8 323.3 696.2 323.6 697.3 323.8 698.3 324.1 699.0 324.3 699.6 324.6 700.0 324.8 700.3 325.1 700.5 325.3 700.6 325.8 700.8 326.3 700.9 326.8 700.9 327.3 701.0 327.8 701.0 328.3 701.1 328.8 701.1 329.3 701.1 329.8 701.1 330.3 701.2 330.8 701.2 331.3 701.2 331.8 701.2 332.3 701.2 332.8 701.2 333.3 701.2 333.8 701.2 334.3 701.2 334.8 701.2 335.3 701.2 335.8 701.2 336.3 701.2 336.8 701.2 337.3 701.2 337.8 701.2 338.1 701.2 338.3 701.1 338.6 701.0 338.8 700.8 339.1 700.6 339.3 700.2 339.6 699.8 339.8 699.3 340.1 698.8 340.3 698.4 340.6 698.1 340.8 698.0 341.1 698.1 341.3 698.4 341.6 698.8 341.8 699.3 342.1 699.8 342.3 700.2 342.6 700.6 342.8 700.8 343.1 701.0 343.3 701.1 343.6 701.2 343.8 701.2 344.3 701.3 344.8 701.3 345.3 701.3 345.8 701.3 346.3 701.3 346.8 701.3 347.3 701.3 347.8 701.3 348.3 701.3 348.8 701.3 349.3 701.3 349.8 701.3" stroke="#c4c4c4" stroke-dasharray="5 1"/>
<path d="M357.8 701.5 380.0 702.0 388.7 701.4 389.9 694.5 390.9 673.4 391.6 669.1 392.4 684.6 393.4 694.5 394.9 698.3 396.8 701.4 399.9 702.0 401.1 694.5 402.1 657.3 402.7 626.8 403.6 626.8 404.2 657.3 405.1 692.0 406.1 695.8 407.1 700.7 409.8 702.0 436.5 701.5" stroke="#585858"/>
<path d="M87.8 382.8 105.0 383.0 108.4 382.6" stroke="#606060"/>
</svg>
<div class="vl" style="top:56px;height:141px"></div>
<div class="vl" style="top:232px;height:140.3px"></div>
<div class="vl" style="top:454.3px;height:154.1px"></div>
<div class="vl" style="top:628.7px;height:66.1px"></div>
<div class="t" style="left:117.00px;top:-1.50px;font-size:11.00px;">BV1</div>
<div class="t" style="left:206.00px;top:-1.50px;font-size:11.00px;">BV2</div>
<div class="t" style="left:299.50px;top:0.20px;font-size:11.00px;">BV4</div>
<div class="t" style="left:376.00px;top:-1.50px;font-size:11.20px;">BV13-2</div>
<div class="t" style="left:464.00px;top:-1.50px;font-size:11.00px;">BV30</div>
<div class="t" style="left:5.00px;top:17.50px;font-size:14.30px;font-weight:bold;">A</div>
<div class="t" style="left:5.00px;top:429.30px;font-size:14.30px;font-weight:bold;">B</div>
<div class="t" style="left:465.50px;top:66.50px;font-size:12.50px;">ND</div>
<div class="t" style="left:384.70px;top:167.50px;font-size:12.50px;">ND</div>
<div class="t" style="left:199.70px;top:260.50px;font-size:12.50px;">ND</div>
<div class="t" style="left:479.40px;top:670.50px;font-size:12.50px;">ND</div>
<div class="t" style="left:39.60px;top:73.50px;font-size:11.20px;">san/+ #1</div>
<div class="t" style="left:37.00px;top:87.00px;font-size:11.20px;">enlarged</div>
<div class="t" style="left:54.00px;top:100.50px;font-size:11.20px;">LN</div>
<div class="t" style="left:43.70px;top:148.00px;font-size:11.20px;">san/+ #1</div>
<div class="t" style="left:30.50px;top:162.00px;font-size:11.30px;">non-enlarged</div>
<div class="t" style="left:58.00px;top:176.00px;font-size:11.20px;">LN</div>
<div class="t" style="left:38.90px;top:252.80px;font-size:11.20px;">san/+ #4</div>
<div class="t" style="left:45.40px;top:331.70px;font-size:11.20px;">+/+ #6</div>
<div class="t" style="left:38.90px;top:478.30px;font-size:11.20px;">san/+ #1</div>
<div class="t" style="left:36.90px;top:491.80px;font-size:11.30px;">enlarged</div>
<div class="t" style="left:53.90px;top:506.10px;font-size:11.20px;">LN</div>
<div class="t" style="left:45.20px;top:567.50px;font-size:11.20px;">san/+ #1</div>
<div class="t" style="left:31.70px;top:580.70px;font-size:11.50px;">non-enlarged</div>
<div class="t" style="left:60.20px;top:593.60px;font-size:11.20px;">LN</div>
<div class="t" style="left:38.50px;top:663.40px;font-size:11.20px;">san/+ #4</div>
<div class="rot" style="left:9.00px;top:170.00px;font-size:10.80px;">Mouse with tumor</div>
<div class="rot" style="left:7.40px;top:345.00px;font-size:10.70px;">Mice without tumor</div>
<div class="rot" style="left:7.50px;top:561.00px;font-size:10.80px;">Mouse with tumor</div>
<div class="rot" style="left:-1.00px;top:697.50px;font-size:10.95px;">Mouse without</div>
<div class="rot" style="left:12.80px;top:678.60px;font-size:11.40px;">tumor</div>
<div class="t" style="left:196.5px;top:704.6px;font-size:5.6px;color:#999;letter-spacing:0.1px">292</div>
<div class="t" style="left:219.6px;top:704.6px;font-size:5.6px;color:#999;letter-spacing:0.1px">304</div>
<div class="t" style="left:240px;top:704.6px;font-size:5.6px;color:#999;letter-spacing:0.1px">316</div>
</body></html>
